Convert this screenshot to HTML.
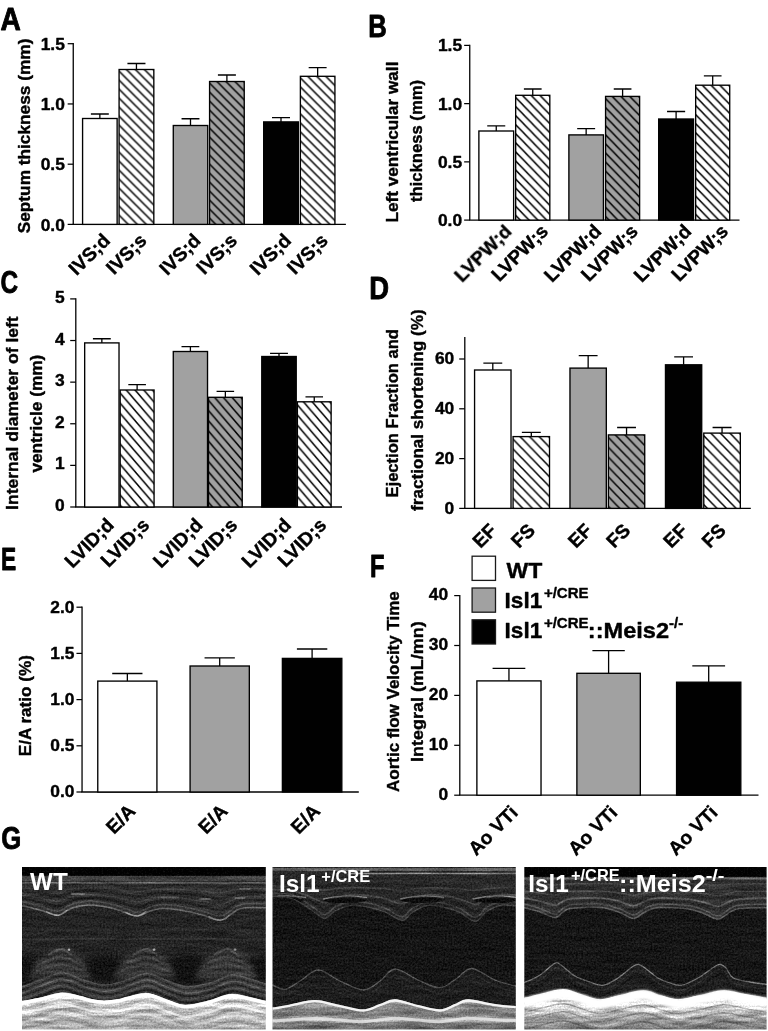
<!DOCTYPE html>
<html><head><meta charset="utf-8"><title>Figure</title>
<style>html,body{margin:0;padding:0;background:#fff}svg{display:block}</style>
</head><body>
<svg width="768" height="1031" viewBox="0 0 768 1031">
<defs>
</defs>
<rect width="768" height="1031" fill="#fff"/>
<g opacity="0.999">

<text x="0.40" y="29.80" font-size="31.7" textLength="20.3" lengthAdjust="spacingAndGlyphs" font-family="Liberation Sans, sans-serif" font-weight="bold" stroke="#000" stroke-width="0.9" stroke-linejoin="round">A</text>
<path d="M73.25 43.10V224.40" stroke="#000" stroke-width="1.3" fill="none"/>
<path d="M72.60 224.40H345.90" stroke="#000" stroke-width="1.3" fill="none"/>
<path d="M67.65 43.70H73.25" stroke="#000" stroke-width="1.25" fill="none"/>
<text x="64.90" y="49.96" font-size="17.4" text-anchor="end" font-family="Liberation Sans, sans-serif" font-weight="bold" stroke="#000" stroke-width="0.4" stroke-linejoin="round">1.5</text>
<path d="M67.65 103.95H73.25" stroke="#000" stroke-width="1.25" fill="none"/>
<text x="64.90" y="110.21" font-size="17.4" text-anchor="end" font-family="Liberation Sans, sans-serif" font-weight="bold" stroke="#000" stroke-width="0.4" stroke-linejoin="round">1.0</text>
<path d="M67.65 164.20H73.25" stroke="#000" stroke-width="1.25" fill="none"/>
<text x="64.90" y="170.46" font-size="17.4" text-anchor="end" font-family="Liberation Sans, sans-serif" font-weight="bold" stroke="#000" stroke-width="0.4" stroke-linejoin="round">0.5</text>
<path d="M67.65 224.40H73.25" stroke="#000" stroke-width="1.25" fill="none"/>
<text x="64.90" y="230.66" font-size="17.4" text-anchor="end" font-family="Liberation Sans, sans-serif" font-weight="bold" stroke="#000" stroke-width="0.4" stroke-linejoin="round">0.0</text>
<text transform="translate(29.90 233.30) rotate(-90)" font-size="16.8" textLength="194.7" lengthAdjust="spacingAndGlyphs" font-family="Liberation Sans, sans-serif" font-weight="bold" stroke="#000" stroke-width="0.4" stroke-linejoin="round">Septum thickness (mm)</text>
<path d="M99.85 118.50V114.00M90.88 114.00H108.82" stroke="#000" stroke-width="1.3" fill="none"/>
<rect x="82.58" y="118.50" width="34.55" height="105.90" fill="#fff" stroke="#000" stroke-width="1.35"/>
<text transform="translate(111.25 241.60) rotate(-45)" font-size="19.2" text-anchor="end" font-family="Liberation Sans, sans-serif" font-weight="bold" stroke="#000" stroke-width="0.4" stroke-linejoin="round">IVS;d</text>
<path d="M136.45 69.50V63.50M127.42 63.50H145.47" stroke="#000" stroke-width="1.3" fill="none"/>
<pattern id="h1" x="118.40" y="70.50" width="9.0" height="9.0" patternUnits="userSpaceOnUse"><rect width="9.0" height="9.0" fill="#fff"/><path d="M-9.0 -9.0L18.0 18.0M0 -9.0L27.0 18.0M-18.0 -9.0L9.0 18.0" stroke="#000" stroke-width="1.5" fill="none"/></pattern>
<rect x="119.08" y="69.50" width="34.75" height="154.90" fill="url(#h1)" stroke="#000" stroke-width="1.35"/>
<text transform="translate(147.85 241.60) rotate(-45)" font-size="19.2" text-anchor="end" font-family="Liberation Sans, sans-serif" font-weight="bold" stroke="#000" stroke-width="0.4" stroke-linejoin="round">IVS;s</text>
<path d="M190.50 125.50V118.75M181.55 118.75H199.45" stroke="#000" stroke-width="1.3" fill="none"/>
<rect x="173.28" y="125.50" width="34.45" height="98.90" fill="#a1a1a1" stroke="#000" stroke-width="1.35"/>
<text transform="translate(201.90 241.60) rotate(-45)" font-size="19.2" text-anchor="end" font-family="Liberation Sans, sans-serif" font-weight="bold" stroke="#000" stroke-width="0.4" stroke-linejoin="round">IVS;d</text>
<path d="M226.90 81.50V75.00M217.90 75.00H235.90" stroke="#000" stroke-width="1.3" fill="none"/>
<pattern id="h2" x="208.90" y="82.50" width="9.0" height="9.0" patternUnits="userSpaceOnUse"><rect width="9.0" height="9.0" fill="#a1a1a1"/><path d="M-9.0 -9.0L18.0 18.0M0 -9.0L27.0 18.0M-18.0 -9.0L9.0 18.0" stroke="#000" stroke-width="1.5" fill="none"/></pattern>
<rect x="209.58" y="81.50" width="34.65" height="142.90" fill="url(#h2)" stroke="#000" stroke-width="1.35"/>
<text transform="translate(238.30 241.60) rotate(-45)" font-size="19.2" text-anchor="end" font-family="Liberation Sans, sans-serif" font-weight="bold" stroke="#000" stroke-width="0.4" stroke-linejoin="round">IVS;s</text>
<path d="M281.00 121.90V117.70M272.00 117.70H290.00" stroke="#000" stroke-width="1.3" fill="none"/>
<rect x="263.68" y="121.90" width="34.65" height="102.50" fill="#000" stroke="#000" stroke-width="1.35"/>
<text transform="translate(292.40 241.60) rotate(-45)" font-size="19.2" text-anchor="end" font-family="Liberation Sans, sans-serif" font-weight="bold" stroke="#000" stroke-width="0.4" stroke-linejoin="round">IVS;d</text>
<path d="M317.65 76.30V67.70M308.67 67.70H326.62" stroke="#000" stroke-width="1.3" fill="none"/>
<pattern id="h3" x="299.70" y="77.30" width="9.0" height="9.0" patternUnits="userSpaceOnUse"><rect width="9.0" height="9.0" fill="#fff"/><path d="M-9.0 -9.0L18.0 18.0M0 -9.0L27.0 18.0M-18.0 -9.0L9.0 18.0" stroke="#000" stroke-width="1.5" fill="none"/></pattern>
<rect x="300.38" y="76.30" width="34.55" height="148.10" fill="url(#h3)" stroke="#000" stroke-width="1.35"/>
<text transform="translate(329.05 241.60) rotate(-45)" font-size="19.2" text-anchor="end" font-family="Liberation Sans, sans-serif" font-weight="bold" stroke="#000" stroke-width="0.4" stroke-linejoin="round">IVS;s</text>
<text x="368.20" y="36.70" font-size="31.7" textLength="18.5" lengthAdjust="spacingAndGlyphs" font-family="Liberation Sans, sans-serif" font-weight="bold" stroke="#000" stroke-width="0.9" stroke-linejoin="round">B</text>
<path d="M469.75 44.80V220.10" stroke="#000" stroke-width="1.3" fill="none"/>
<path d="M469.10 220.10H739.50" stroke="#000" stroke-width="1.3" fill="none"/>
<path d="M464.15 45.40H469.75" stroke="#000" stroke-width="1.25" fill="none"/>
<text x="462.10" y="51.39" font-size="17.4" text-anchor="end" font-family="Liberation Sans, sans-serif" font-weight="bold" stroke="#000" stroke-width="0.4" stroke-linejoin="round">1.5</text>
<path d="M464.15 103.63H469.75" stroke="#000" stroke-width="1.25" fill="none"/>
<text x="462.10" y="109.62" font-size="17.4" text-anchor="end" font-family="Liberation Sans, sans-serif" font-weight="bold" stroke="#000" stroke-width="0.4" stroke-linejoin="round">1.0</text>
<path d="M464.15 161.87H469.75" stroke="#000" stroke-width="1.25" fill="none"/>
<text x="462.10" y="167.86" font-size="17.4" text-anchor="end" font-family="Liberation Sans, sans-serif" font-weight="bold" stroke="#000" stroke-width="0.4" stroke-linejoin="round">0.5</text>
<path d="M464.15 220.10H469.75" stroke="#000" stroke-width="1.25" fill="none"/>
<text x="462.10" y="226.09" font-size="17.4" text-anchor="end" font-family="Liberation Sans, sans-serif" font-weight="bold" stroke="#000" stroke-width="0.4" stroke-linejoin="round">0.0</text>
<text transform="translate(397.90 222.50) rotate(-90)" font-size="16.8" textLength="160.9" lengthAdjust="spacingAndGlyphs" font-family="Liberation Sans, sans-serif" font-weight="bold" stroke="#000" stroke-width="0.4" stroke-linejoin="round">Left ventricular wall</text>
<text transform="translate(421.90 202.10) rotate(-90)" font-size="16.8" textLength="122.2" lengthAdjust="spacingAndGlyphs" font-family="Liberation Sans, sans-serif" font-weight="bold" stroke="#000" stroke-width="0.4" stroke-linejoin="round">thickness (mm)</text>
<path d="M496.25 131.00V125.80M487.23 125.80H505.27" stroke="#000" stroke-width="1.3" fill="none"/>
<rect x="478.88" y="131.00" width="34.75" height="89.10" fill="#fff" stroke="#000" stroke-width="1.35"/>
<text transform="translate(512.75 232.40) rotate(-45)" font-size="19.2" text-anchor="end" font-family="Liberation Sans, sans-serif" font-weight="bold" stroke="#000" stroke-width="0.4" stroke-linejoin="round">LVPW;d</text>
<path d="M532.75 95.30V89.00M523.88 89.00H541.62" stroke="#000" stroke-width="1.3" fill="none"/>
<pattern id="h4" x="515.00" y="96.80" width="8.8" height="9.07" patternUnits="userSpaceOnUse"><rect width="8.8" height="9.07" fill="#fff"/><path d="M-8.8 -9.07L17.6 18.14M0 -9.07L26.400000000000002 18.14M-17.6 -9.07L8.8 18.14" stroke="#000" stroke-width="1.5" fill="none"/></pattern>
<rect x="515.67" y="95.30" width="34.15" height="124.80" fill="url(#h4)" stroke="#000" stroke-width="1.35"/>
<text transform="translate(549.25 232.40) rotate(-45)" font-size="19.2" text-anchor="end" font-family="Liberation Sans, sans-serif" font-weight="bold" stroke="#000" stroke-width="0.4" stroke-linejoin="round">LVPW;s</text>
<path d="M586.15 134.90V128.60M577.18 128.60H595.13" stroke="#000" stroke-width="1.3" fill="none"/>
<rect x="568.88" y="134.90" width="34.55" height="85.20" fill="#a1a1a1" stroke="#000" stroke-width="1.35"/>
<text transform="translate(602.65 232.40) rotate(-45)" font-size="19.2" text-anchor="end" font-family="Liberation Sans, sans-serif" font-weight="bold" stroke="#000" stroke-width="0.4" stroke-linejoin="round">LVPW;d</text>
<path d="M622.60 96.40V89.00M613.75 89.00H631.45" stroke="#000" stroke-width="1.3" fill="none"/>
<pattern id="h5" x="604.90" y="97.90" width="8.8" height="9.07" patternUnits="userSpaceOnUse"><rect width="8.8" height="9.07" fill="#a1a1a1"/><path d="M-8.8 -9.07L17.6 18.14M0 -9.07L26.400000000000002 18.14M-17.6 -9.07L8.8 18.14" stroke="#000" stroke-width="1.5" fill="none"/></pattern>
<rect x="605.57" y="96.40" width="34.05" height="123.70" fill="url(#h5)" stroke="#000" stroke-width="1.35"/>
<text transform="translate(639.10 232.40) rotate(-45)" font-size="19.2" text-anchor="end" font-family="Liberation Sans, sans-serif" font-weight="bold" stroke="#000" stroke-width="0.4" stroke-linejoin="round">LVPW;s</text>
<path d="M676.10 119.00V111.50M667.05 111.50H685.15" stroke="#000" stroke-width="1.3" fill="none"/>
<rect x="658.67" y="119.00" width="34.85" height="101.10" fill="#000" stroke="#000" stroke-width="1.35"/>
<text transform="translate(692.60 232.40) rotate(-45)" font-size="19.2" text-anchor="end" font-family="Liberation Sans, sans-serif" font-weight="bold" stroke="#000" stroke-width="0.4" stroke-linejoin="round">LVPW;d</text>
<path d="M712.70 85.20V75.80M703.85 75.80H721.55" stroke="#000" stroke-width="1.3" fill="none"/>
<pattern id="h6" x="695.00" y="86.70" width="8.8" height="9.07" patternUnits="userSpaceOnUse"><rect width="8.8" height="9.07" fill="#fff"/><path d="M-8.8 -9.07L17.6 18.14M0 -9.07L26.400000000000002 18.14M-17.6 -9.07L8.8 18.14" stroke="#000" stroke-width="1.5" fill="none"/></pattern>
<rect x="695.67" y="85.20" width="34.05" height="134.90" fill="url(#h6)" stroke="#000" stroke-width="1.35"/>
<text transform="translate(729.20 232.40) rotate(-45)" font-size="19.2" text-anchor="end" font-family="Liberation Sans, sans-serif" font-weight="bold" stroke="#000" stroke-width="0.4" stroke-linejoin="round">LVPW;s</text>
<text x="0.60" y="292.60" font-size="31.7" textLength="17.6" lengthAdjust="spacingAndGlyphs" font-family="Liberation Sans, sans-serif" font-weight="bold" stroke="#000" stroke-width="0.9" stroke-linejoin="round">C</text>
<path d="M75.80 298.30V507.00" stroke="#000" stroke-width="1.3" fill="none"/>
<path d="M75.15 507.00H342.00" stroke="#000" stroke-width="1.3" fill="none"/>
<path d="M70.20 298.90H75.80" stroke="#000" stroke-width="1.25" fill="none"/>
<text x="64.60" y="302.96" font-size="17.4" text-anchor="end" font-family="Liberation Sans, sans-serif" font-weight="bold" stroke="#000" stroke-width="0.4" stroke-linejoin="round">5</text>
<path d="M70.20 340.52H75.80" stroke="#000" stroke-width="1.25" fill="none"/>
<text x="64.60" y="344.58" font-size="17.4" text-anchor="end" font-family="Liberation Sans, sans-serif" font-weight="bold" stroke="#000" stroke-width="0.4" stroke-linejoin="round">4</text>
<path d="M70.20 382.14H75.80" stroke="#000" stroke-width="1.25" fill="none"/>
<text x="64.60" y="386.20" font-size="17.4" text-anchor="end" font-family="Liberation Sans, sans-serif" font-weight="bold" stroke="#000" stroke-width="0.4" stroke-linejoin="round">3</text>
<path d="M70.20 423.76H75.80" stroke="#000" stroke-width="1.25" fill="none"/>
<text x="64.60" y="427.82" font-size="17.4" text-anchor="end" font-family="Liberation Sans, sans-serif" font-weight="bold" stroke="#000" stroke-width="0.4" stroke-linejoin="round">2</text>
<path d="M70.20 465.38H75.80" stroke="#000" stroke-width="1.25" fill="none"/>
<text x="64.60" y="469.44" font-size="17.4" text-anchor="end" font-family="Liberation Sans, sans-serif" font-weight="bold" stroke="#000" stroke-width="0.4" stroke-linejoin="round">1</text>
<path d="M70.20 507.00H75.80" stroke="#000" stroke-width="1.25" fill="none"/>
<text x="64.60" y="511.06" font-size="17.4" text-anchor="end" font-family="Liberation Sans, sans-serif" font-weight="bold" stroke="#000" stroke-width="0.4" stroke-linejoin="round">0</text>
<text transform="translate(18.30 509.90) rotate(-90)" font-size="16.8" textLength="193.6" lengthAdjust="spacingAndGlyphs" font-family="Liberation Sans, sans-serif" font-weight="bold" stroke="#000" stroke-width="0.4" stroke-linejoin="round">Internal diameter of left</text>
<text transform="translate(42.40 472.60) rotate(-90)" font-size="16.8" textLength="117.9" lengthAdjust="spacingAndGlyphs" font-family="Liberation Sans, sans-serif" font-weight="bold" stroke="#000" stroke-width="0.4" stroke-linejoin="round">ventricle (mm)</text>
<path d="M101.85 342.90V338.75M92.92 338.75H110.77" stroke="#000" stroke-width="1.3" fill="none"/>
<rect x="84.67" y="342.90" width="34.35" height="164.10" fill="#fff" stroke="#000" stroke-width="1.35"/>
<text transform="translate(115.15 526.20) rotate(-45)" font-size="19.2" text-anchor="end" font-family="Liberation Sans, sans-serif" font-weight="bold" stroke="#000" stroke-width="0.4" stroke-linejoin="round">LVID;d</text>
<path d="M137.12 390.00V384.60M128.31 384.60H145.94" stroke="#000" stroke-width="1.3" fill="none"/>
<pattern id="h7" x="119.50" y="392.30" width="8.75" height="10.2" patternUnits="userSpaceOnUse"><rect width="8.75" height="10.2" fill="#fff"/><path d="M-8.75 -10.2L17.5 20.4M0 -10.2L26.25 20.4M-17.5 -10.2L8.75 20.4" stroke="#000" stroke-width="1.5" fill="none"/></pattern>
<rect x="120.17" y="390.00" width="33.90" height="117.00" fill="url(#h7)" stroke="#000" stroke-width="1.35"/>
<text transform="translate(150.43 526.20) rotate(-45)" font-size="19.2" text-anchor="end" font-family="Liberation Sans, sans-serif" font-weight="bold" stroke="#000" stroke-width="0.4" stroke-linejoin="round">LVID;s</text>
<path d="M190.40 351.50V346.60M181.50 346.60H199.30" stroke="#000" stroke-width="1.3" fill="none"/>
<rect x="173.28" y="351.50" width="34.25" height="155.50" fill="#a1a1a1" stroke="#000" stroke-width="1.35"/>
<text transform="translate(203.70 526.20) rotate(-45)" font-size="19.2" text-anchor="end" font-family="Liberation Sans, sans-serif" font-weight="bold" stroke="#000" stroke-width="0.4" stroke-linejoin="round">LVID;d</text>
<path d="M225.35 397.30V391.40M216.58 391.40H234.13" stroke="#000" stroke-width="1.3" fill="none"/>
<pattern id="h8" x="207.80" y="399.60" width="8.75" height="10.2" patternUnits="userSpaceOnUse"><rect width="8.75" height="10.2" fill="#a1a1a1"/><path d="M-8.75 -10.2L17.5 20.4M0 -10.2L26.25 20.4M-17.5 -10.2L8.75 20.4" stroke="#000" stroke-width="1.5" fill="none"/></pattern>
<rect x="208.48" y="397.30" width="33.75" height="109.70" fill="url(#h8)" stroke="#000" stroke-width="1.35"/>
<text transform="translate(238.65 526.20) rotate(-45)" font-size="19.2" text-anchor="end" font-family="Liberation Sans, sans-serif" font-weight="bold" stroke="#000" stroke-width="0.4" stroke-linejoin="round">LVID;s</text>
<path d="M279.00 356.50V353.30M270.05 353.30H287.95" stroke="#000" stroke-width="1.3" fill="none"/>
<rect x="261.78" y="356.50" width="34.45" height="150.50" fill="#000" stroke="#000" stroke-width="1.35"/>
<text transform="translate(292.30 526.20) rotate(-45)" font-size="19.2" text-anchor="end" font-family="Liberation Sans, sans-serif" font-weight="bold" stroke="#000" stroke-width="0.4" stroke-linejoin="round">LVID;d</text>
<path d="M314.25 401.80V396.80M305.48 396.80H323.02" stroke="#000" stroke-width="1.3" fill="none"/>
<pattern id="h9" x="296.70" y="404.10" width="8.75" height="10.2" patternUnits="userSpaceOnUse"><rect width="8.75" height="10.2" fill="#fff"/><path d="M-8.75 -10.2L17.5 20.4M0 -10.2L26.25 20.4M-17.5 -10.2L8.75 20.4" stroke="#000" stroke-width="1.5" fill="none"/></pattern>
<rect x="297.38" y="401.80" width="33.75" height="105.20" fill="url(#h9)" stroke="#000" stroke-width="1.35"/>
<text transform="translate(327.55 526.20) rotate(-45)" font-size="19.2" text-anchor="end" font-family="Liberation Sans, sans-serif" font-weight="bold" stroke="#000" stroke-width="0.4" stroke-linejoin="round">LVID;s</text>
<text x="369.30" y="299.30" font-size="31.7" textLength="19.8" lengthAdjust="spacingAndGlyphs" font-family="Liberation Sans, sans-serif" font-weight="bold" stroke="#000" stroke-width="0.9" stroke-linejoin="round">D</text>
<path d="M464.80 336.90V508.40" stroke="#000" stroke-width="1.3" fill="none"/>
<path d="M464.15 508.40H750.80" stroke="#000" stroke-width="1.3" fill="none"/>
<path d="M459.20 359.00H464.80" stroke="#000" stroke-width="1.25" fill="none"/>
<text x="454.25" y="364.26" font-size="17.4" text-anchor="end" font-family="Liberation Sans, sans-serif" font-weight="bold" stroke="#000" stroke-width="0.4" stroke-linejoin="round">60</text>
<path d="M459.20 408.80H464.80" stroke="#000" stroke-width="1.25" fill="none"/>
<text x="454.25" y="414.06" font-size="17.4" text-anchor="end" font-family="Liberation Sans, sans-serif" font-weight="bold" stroke="#000" stroke-width="0.4" stroke-linejoin="round">40</text>
<path d="M459.20 458.60H464.80" stroke="#000" stroke-width="1.25" fill="none"/>
<text x="454.25" y="463.86" font-size="17.4" text-anchor="end" font-family="Liberation Sans, sans-serif" font-weight="bold" stroke="#000" stroke-width="0.4" stroke-linejoin="round">20</text>
<path d="M459.20 508.40H464.80" stroke="#000" stroke-width="1.25" fill="none"/>
<text x="454.25" y="513.66" font-size="17.4" text-anchor="end" font-family="Liberation Sans, sans-serif" font-weight="bold" stroke="#000" stroke-width="0.4" stroke-linejoin="round">0</text>
<text transform="translate(398.30 497.50) rotate(-90)" font-size="16.8" textLength="168.5" lengthAdjust="spacingAndGlyphs" font-family="Liberation Sans, sans-serif" font-weight="bold" stroke="#000" stroke-width="0.4" stroke-linejoin="round">Ejection Fraction and</text>
<text transform="translate(422.90 510.90) rotate(-90)" font-size="16.8" textLength="201.5" lengthAdjust="spacingAndGlyphs" font-family="Liberation Sans, sans-serif" font-weight="bold" stroke="#000" stroke-width="0.4" stroke-linejoin="round">fractional shortening (%)</text>
<path d="M492.80 370.00V363.20M483.35 363.20H502.25" stroke="#000" stroke-width="1.3" fill="none"/>
<rect x="474.57" y="370.00" width="36.45" height="138.40" fill="#fff" stroke="#000" stroke-width="1.35"/>
<text transform="translate(497.90 531.70) rotate(-45)" font-size="19.2" text-anchor="end" font-family="Liberation Sans, sans-serif" font-weight="bold" stroke="#000" stroke-width="0.4" stroke-linejoin="round">EF</text>
<path d="M531.30 436.60V432.40M521.85 432.40H540.75" stroke="#000" stroke-width="1.3" fill="none"/>
<pattern id="h10" x="512.40" y="438.50" width="9.55" height="9.85" patternUnits="userSpaceOnUse"><rect width="9.55" height="9.85" fill="#fff"/><path d="M-9.55 -9.85L19.1 19.7M0 -9.85L28.650000000000002 19.7M-19.1 -9.85L9.55 19.7" stroke="#000" stroke-width="1.5" fill="none"/></pattern>
<rect x="513.07" y="436.60" width="36.45" height="71.80" fill="url(#h10)" stroke="#000" stroke-width="1.35"/>
<text transform="translate(536.40 531.70) rotate(-45)" font-size="19.2" text-anchor="end" font-family="Liberation Sans, sans-serif" font-weight="bold" stroke="#000" stroke-width="0.4" stroke-linejoin="round">FS</text>
<path d="M588.15 368.10V355.60M578.72 355.60H597.58" stroke="#000" stroke-width="1.3" fill="none"/>
<rect x="569.97" y="368.10" width="36.35" height="140.30" fill="#a1a1a1" stroke="#000" stroke-width="1.35"/>
<text transform="translate(593.25 531.70) rotate(-45)" font-size="19.2" text-anchor="end" font-family="Liberation Sans, sans-serif" font-weight="bold" stroke="#000" stroke-width="0.4" stroke-linejoin="round">EF</text>
<path d="M626.55 434.90V427.50M617.12 427.50H635.97" stroke="#000" stroke-width="1.3" fill="none"/>
<pattern id="h11" x="607.70" y="436.80" width="9.55" height="9.85" patternUnits="userSpaceOnUse"><rect width="9.55" height="9.85" fill="#a1a1a1"/><path d="M-9.55 -9.85L19.1 19.7M0 -9.85L28.650000000000002 19.7M-19.1 -9.85L9.55 19.7" stroke="#000" stroke-width="1.5" fill="none"/></pattern>
<rect x="608.38" y="434.90" width="36.35" height="73.50" fill="url(#h11)" stroke="#000" stroke-width="1.35"/>
<text transform="translate(631.65 531.70) rotate(-45)" font-size="19.2" text-anchor="end" font-family="Liberation Sans, sans-serif" font-weight="bold" stroke="#000" stroke-width="0.4" stroke-linejoin="round">FS</text>
<path d="M683.60 364.80V356.80M674.20 356.80H693.00" stroke="#000" stroke-width="1.3" fill="none"/>
<rect x="665.47" y="364.80" width="36.25" height="143.60" fill="#000" stroke="#000" stroke-width="1.35"/>
<text transform="translate(688.70 531.70) rotate(-45)" font-size="19.2" text-anchor="end" font-family="Liberation Sans, sans-serif" font-weight="bold" stroke="#000" stroke-width="0.4" stroke-linejoin="round">EF</text>
<path d="M722.05 433.10V427.50M712.57 427.50H731.52" stroke="#000" stroke-width="1.3" fill="none"/>
<pattern id="h12" x="703.10" y="435.00" width="9.55" height="9.85" patternUnits="userSpaceOnUse"><rect width="9.55" height="9.85" fill="#fff"/><path d="M-9.55 -9.85L19.1 19.7M0 -9.85L28.650000000000002 19.7M-19.1 -9.85L9.55 19.7" stroke="#000" stroke-width="1.5" fill="none"/></pattern>
<rect x="703.77" y="433.10" width="36.55" height="75.30" fill="url(#h12)" stroke="#000" stroke-width="1.35"/>
<text transform="translate(727.15 531.70) rotate(-45)" font-size="19.2" text-anchor="end" font-family="Liberation Sans, sans-serif" font-weight="bold" stroke="#000" stroke-width="0.4" stroke-linejoin="round">FS</text>
<text x="1.00" y="569.50" font-size="31.7" textLength="15.2" lengthAdjust="spacingAndGlyphs" font-family="Liberation Sans, sans-serif" font-weight="bold" stroke="#000" stroke-width="0.9" stroke-linejoin="round">E</text>
<path d="M82.05 606.60V792.00" stroke="#000" stroke-width="1.3" fill="none"/>
<path d="M81.40 792.00H358.80" stroke="#000" stroke-width="1.3" fill="none"/>
<path d="M76.45 607.20H82.05" stroke="#000" stroke-width="1.25" fill="none"/>
<text x="74.50" y="612.56" font-size="17.4" text-anchor="end" font-family="Liberation Sans, sans-serif" font-weight="bold" stroke="#000" stroke-width="0.4" stroke-linejoin="round">2.0</text>
<path d="M76.45 653.40H82.05" stroke="#000" stroke-width="1.25" fill="none"/>
<text x="74.50" y="658.76" font-size="17.4" text-anchor="end" font-family="Liberation Sans, sans-serif" font-weight="bold" stroke="#000" stroke-width="0.4" stroke-linejoin="round">1.5</text>
<path d="M76.45 699.60H82.05" stroke="#000" stroke-width="1.25" fill="none"/>
<text x="74.50" y="704.96" font-size="17.4" text-anchor="end" font-family="Liberation Sans, sans-serif" font-weight="bold" stroke="#000" stroke-width="0.4" stroke-linejoin="round">1.0</text>
<path d="M76.45 745.80H82.05" stroke="#000" stroke-width="1.25" fill="none"/>
<text x="74.50" y="751.16" font-size="17.4" text-anchor="end" font-family="Liberation Sans, sans-serif" font-weight="bold" stroke="#000" stroke-width="0.4" stroke-linejoin="round">0.5</text>
<path d="M76.45 792.00H82.05" stroke="#000" stroke-width="1.25" fill="none"/>
<text x="74.50" y="797.36" font-size="17.4" text-anchor="end" font-family="Liberation Sans, sans-serif" font-weight="bold" stroke="#000" stroke-width="0.4" stroke-linejoin="round">0.0</text>
<text transform="translate(30.50 756.30) rotate(-90)" font-size="16.8" textLength="101.3" lengthAdjust="spacingAndGlyphs" font-family="Liberation Sans, sans-serif" font-weight="bold" stroke="#000" stroke-width="0.4" stroke-linejoin="round">E/A ratio (%)</text>
<path d="M127.35 681.10V673.50M112.22 673.50H142.47" stroke="#000" stroke-width="1.3" fill="none"/>
<rect x="97.77" y="681.10" width="59.15" height="110.90" fill="#fff" stroke="#000" stroke-width="1.35"/>
<text transform="translate(136.55 812.30) rotate(-45)" font-size="19.2" text-anchor="end" font-family="Liberation Sans, sans-serif" font-weight="bold" stroke="#000" stroke-width="0.4" stroke-linejoin="round">E/A</text>
<path d="M219.70 666.00V657.90M204.55 657.90H234.85" stroke="#000" stroke-width="1.3" fill="none"/>
<rect x="190.08" y="666.00" width="59.25" height="126.00" fill="#a1a1a1" stroke="#000" stroke-width="1.35"/>
<text transform="translate(228.90 812.30) rotate(-45)" font-size="19.2" text-anchor="end" font-family="Liberation Sans, sans-serif" font-weight="bold" stroke="#000" stroke-width="0.4" stroke-linejoin="round">E/A</text>
<path d="M312.10 658.40V649.00M296.90 649.00H327.30" stroke="#000" stroke-width="1.3" fill="none"/>
<rect x="282.38" y="658.40" width="59.45" height="133.60" fill="#000" stroke="#000" stroke-width="1.35"/>
<text transform="translate(321.30 812.30) rotate(-45)" font-size="19.2" text-anchor="end" font-family="Liberation Sans, sans-serif" font-weight="bold" stroke="#000" stroke-width="0.4" stroke-linejoin="round">E/A</text>
<text x="370.00" y="576.90" font-size="31.7" textLength="14.5" lengthAdjust="spacingAndGlyphs" font-family="Liberation Sans, sans-serif" font-weight="bold" stroke="#000" stroke-width="0.9" stroke-linejoin="round">F</text>
<path d="M459.80 595.00V795.20" stroke="#000" stroke-width="1.3" fill="none"/>
<path d="M459.15 795.20H758.50" stroke="#000" stroke-width="1.3" fill="none"/>
<path d="M454.20 595.60H459.80" stroke="#000" stroke-width="1.25" fill="none"/>
<text x="448.20" y="600.26" font-size="17.4" text-anchor="end" font-family="Liberation Sans, sans-serif" font-weight="bold" stroke="#000" stroke-width="0.4" stroke-linejoin="round">40</text>
<path d="M454.20 645.50H459.80" stroke="#000" stroke-width="1.25" fill="none"/>
<text x="448.20" y="650.16" font-size="17.4" text-anchor="end" font-family="Liberation Sans, sans-serif" font-weight="bold" stroke="#000" stroke-width="0.4" stroke-linejoin="round">30</text>
<path d="M454.20 695.40H459.80" stroke="#000" stroke-width="1.25" fill="none"/>
<text x="448.20" y="700.06" font-size="17.4" text-anchor="end" font-family="Liberation Sans, sans-serif" font-weight="bold" stroke="#000" stroke-width="0.4" stroke-linejoin="round">20</text>
<path d="M454.20 745.30H459.80" stroke="#000" stroke-width="1.25" fill="none"/>
<text x="448.20" y="749.96" font-size="17.4" text-anchor="end" font-family="Liberation Sans, sans-serif" font-weight="bold" stroke="#000" stroke-width="0.4" stroke-linejoin="round">10</text>
<path d="M454.20 795.20H459.80" stroke="#000" stroke-width="1.25" fill="none"/>
<text x="448.20" y="799.86" font-size="17.4" text-anchor="end" font-family="Liberation Sans, sans-serif" font-weight="bold" stroke="#000" stroke-width="0.4" stroke-linejoin="round">0</text>
<text transform="translate(398.60 792.00) rotate(-90)" font-size="16.8" textLength="200.8" lengthAdjust="spacingAndGlyphs" font-family="Liberation Sans, sans-serif" font-weight="bold" stroke="#000" stroke-width="0.4" stroke-linejoin="round">Aortic flow Velocity Time</text>
<text transform="translate(422.90 761.90) rotate(-90)" font-size="16.8" textLength="140.6" lengthAdjust="spacingAndGlyphs" font-family="Liberation Sans, sans-serif" font-weight="bold" stroke="#000" stroke-width="0.4" stroke-linejoin="round">Integral  (mL/mn)</text>
<path d="M508.95 680.90V668.40M492.58 668.40H525.33" stroke="#000" stroke-width="1.3" fill="none"/>
<rect x="476.88" y="680.90" width="64.15" height="114.30" fill="#fff" stroke="#000" stroke-width="1.35"/>
<text transform="translate(518.95 813.70) rotate(-45)" font-size="19.2" text-anchor="end" font-family="Liberation Sans, sans-serif" font-weight="bold" stroke="#000" stroke-width="0.4" stroke-linejoin="round">Ao VTi</text>
<path d="M608.60 673.30V650.70M592.40 650.70H624.80" stroke="#000" stroke-width="1.3" fill="none"/>
<rect x="576.88" y="673.30" width="63.45" height="121.90" fill="#a1a1a1" stroke="#000" stroke-width="1.35"/>
<text transform="translate(618.60 813.70) rotate(-45)" font-size="19.2" text-anchor="end" font-family="Liberation Sans, sans-serif" font-weight="bold" stroke="#000" stroke-width="0.4" stroke-linejoin="round">Ao VTi</text>
<path d="M708.70 682.20V665.90M692.30 665.90H725.10" stroke="#000" stroke-width="1.3" fill="none"/>
<rect x="676.57" y="682.20" width="64.25" height="113.00" fill="#000" stroke="#000" stroke-width="1.35"/>
<text transform="translate(718.70 813.70) rotate(-45)" font-size="19.2" text-anchor="end" font-family="Liberation Sans, sans-serif" font-weight="bold" stroke="#000" stroke-width="0.4" stroke-linejoin="round">Ao VTi</text>
<rect x="472.1" y="556.20" width="23.4" height="24.2" fill="#fff" stroke="#1a1a1a" stroke-width="1.3"/>
<rect x="472.1" y="588.00" width="23.4" height="24.2" fill="#a1a1a1" stroke="#1a1a1a" stroke-width="1.3"/>
<rect x="472.1" y="619.80" width="23.4" height="24.2" fill="#000" stroke="#1a1a1a" stroke-width="1.3"/>
<text x="506.5" y="578.1" font-size="22.6" textLength="35.8" lengthAdjust="spacingAndGlyphs" font-family="Liberation Sans, sans-serif" font-weight="bold" stroke="#000" stroke-width="0.4" stroke-linejoin="round">WT</text>
<text x="504.6" y="608.1" font-size="22.6" font-family="Liberation Sans, sans-serif" font-weight="bold" stroke="#000" stroke-width="0.4" stroke-linejoin="round">Isl1</text>
<text x="543.9" y="598.2" font-size="15.0" font-family="Liberation Sans, sans-serif" font-weight="bold" stroke="#000" stroke-width="0.4" stroke-linejoin="round">+/CRE</text>
<text x="504.6" y="638.2" font-size="22.6" font-family="Liberation Sans, sans-serif" font-weight="bold" stroke="#000" stroke-width="0.4" stroke-linejoin="round">Isl1</text>
<text x="543.9" y="628.3" font-size="15.0" font-family="Liberation Sans, sans-serif" font-weight="bold" stroke="#000" stroke-width="0.4" stroke-linejoin="round">+/CRE</text>
<text x="587.8" y="638.2" font-size="22.6" textLength="81.3" lengthAdjust="spacingAndGlyphs" font-family="Liberation Sans, sans-serif" font-weight="bold" stroke="#000" stroke-width="0.4" stroke-linejoin="round">::Meis2</text>
<text x="669.0" y="628.3" font-size="15.0" font-family="Liberation Sans, sans-serif" font-weight="bold" stroke="#000" stroke-width="0.4" stroke-linejoin="round">-/-</text>
<text x="1.20" y="848.90" font-size="31.7" textLength="20.0" lengthAdjust="spacingAndGlyphs" font-family="Liberation Sans, sans-serif" font-weight="bold" stroke="#000" stroke-width="0.9" stroke-linejoin="round">G</text>
<defs>
<filter id="us" x="0" y="0" width="100%" height="100%" filterUnits="objectBoundingBox" color-interpolation-filters="sRGB">
<feGaussianBlur in="SourceGraphic" stdDeviation="0.55" result="b"/>
<feTurbulence type="fractalNoise" baseFrequency="0.03 0.25" numOctaves="2" seed="7" result="n1"/>
<feColorMatrix in="n1" type="matrix" values="1 0 0 0 0  1 0 0 0 0  1 0 0 0 0  0 0 0 0 1" result="g1"/>
<feTurbulence type="fractalNoise" baseFrequency="0.55" numOctaves="2" seed="11" result="n2"/>
<feColorMatrix in="n2" type="matrix" values="1 0 0 0 0  1 0 0 0 0  1 0 0 0 0  0 0 0 0 1" result="g2"/>
<feComposite in="b" in2="g1" operator="arithmetic" k1="0.9" k2="0.55" k3="0" k4="0" result="c1"/>
<feComposite in="c1" in2="g2" operator="arithmetic" k1="0.2" k2="0.9" k3="0.2" k4="-0.1"/>
</filter>
<filter id="bl" x="-5%" y="-50%" width="110%" height="200%"><feGaussianBlur stdDeviation="0.6"/></filter>
<filter id="bl2" x="-5%" y="-50%" width="110%" height="200%"><feGaussianBlur stdDeviation="1.1"/></filter>
<filter id="bl3" x="-30%" y="-30%" width="160%" height="160%"><feGaussianBlur stdDeviation="2.6"/></filter>
<linearGradient id="br1" x1="0" y1="0" x2="0" y2="1"><stop offset="0" stop-color="#fff"/><stop offset="0.18" stop-color="#d8d8d8"/><stop offset="0.5" stop-color="#c0c0c0"/><stop offset="1" stop-color="#9a9a9a"/></linearGradient>
<linearGradient id="br2" x1="0" y1="0" x2="0" y2="1"><stop offset="0" stop-color="#ddd"/><stop offset="0.1" stop-color="#999"/><stop offset="0.35" stop-color="#7a7a7a"/><stop offset="0.5" stop-color="#8a8a8a"/><stop offset="0.58" stop-color="#b8b8b8"/><stop offset="0.68" stop-color="#6c6c6c"/><stop offset="1" stop-color="#585858"/></linearGradient>
<linearGradient id="br3" x1="0" y1="0" x2="0" y2="1"><stop offset="0" stop-color="#fff"/><stop offset="0.3" stop-color="#f0f0f0"/><stop offset="0.45" stop-color="#c8c8c8"/><stop offset="0.7" stop-color="#909090"/><stop offset="1" stop-color="#5c5c5c"/></linearGradient>
</defs>
<clipPath id="cp1"><rect x="22.0" y="866.9" width="243.80" height="162.50"/></clipPath>
<g clip-path="url(#cp1)"><g filter="url(#us)">
<rect x="16.0" y="860.9" width="255.80" height="174.50" fill="#303030"/>
<path d="M14.0 901.7C15.3 901.7 17.7 901.0 22.0 901.7C26.3 902.4 34.1 904.4 40.0 906.0C45.9 907.6 52.8 911.2 57.5 911.2C62.2 911.2 64.6 907.5 68.0 906.0C71.4 904.5 73.5 903.3 78.0 902.5C82.5 901.7 88.8 900.8 95.0 901.2C101.2 901.6 108.0 903.2 115.0 905.0C122.0 906.8 130.9 911.7 136.7 912.0C142.5 912.3 145.8 908.2 150.0 907.0C154.2 905.8 156.7 904.7 162.0 904.6C167.3 904.5 175.3 905.4 182.0 906.5C188.7 907.6 195.7 909.4 202.0 911.0C208.3 912.6 215.3 916.2 220.0 916.2C224.7 916.2 227.0 912.8 230.0 911.0C233.0 909.2 235.3 906.7 238.0 905.5C240.7 904.3 241.3 904.0 246.0 903.7C250.7 903.4 261.4 903.7 266.0 903.7C270.6 903.7 272.5 903.7 273.8 903.7" fill="none" stroke="#505050" stroke-width="1.5" stroke-opacity="0.8"/>
<path d="M14.0 898.4C15.3 898.4 17.7 897.8 22.0 898.4C26.3 899.0 34.1 900.7 40.0 902.0C45.9 903.3 52.8 906.3 57.5 906.3C62.2 906.3 64.6 903.2 68.0 902.0C71.4 900.8 73.5 899.8 78.0 899.1C82.5 898.4 88.8 897.7 95.0 898.0C101.2 898.4 108.0 899.7 115.0 901.2C122.0 902.7 130.9 906.7 136.7 907.0C142.5 907.3 145.8 903.9 150.0 902.8C154.2 901.8 156.7 900.9 162.0 900.8C167.3 900.8 175.3 901.5 182.0 902.4C188.7 903.3 195.7 904.8 202.0 906.1C208.3 907.5 215.3 910.5 220.0 910.5C224.7 910.5 227.0 907.6 230.0 906.1C233.0 904.7 235.3 902.6 238.0 901.6C240.7 900.6 241.3 900.3 246.0 900.1C250.7 899.8 261.4 900.1 266.0 900.1C270.6 900.1 272.5 900.1 273.8 900.1" fill="none" stroke="#1c1c1c" stroke-width="2.4" stroke-opacity="0.85"/>
<path d="M14.0 895.2C15.3 895.2 17.7 894.7 22.0 895.2C26.3 895.6 34.1 897.0 40.0 898.0C45.9 899.0 52.8 901.4 57.5 901.4C62.2 901.4 64.6 899.0 68.0 898.0C71.4 897.0 73.5 896.2 78.0 895.7C82.5 895.2 88.8 894.6 95.0 894.8C101.2 895.1 108.0 896.2 115.0 897.3C122.0 898.5 130.9 901.7 136.7 902.0C142.5 902.2 145.8 899.5 150.0 898.7C154.2 897.8 156.7 897.1 162.0 897.1C167.3 897.0 175.3 897.6 182.0 898.3C188.7 899.0 195.7 900.2 202.0 901.3C208.3 902.4 215.3 904.7 220.0 904.7C224.7 904.7 227.0 902.5 230.0 901.3C233.0 900.1 235.3 898.5 238.0 897.7C240.7 896.9 241.3 896.7 246.0 896.5C250.7 896.3 261.4 896.5 266.0 896.5C270.6 896.5 272.5 896.5 273.8 896.5" fill="none" stroke="#4a4a4a" stroke-width="1.6" stroke-opacity="0.7"/>
<path d="M14.0 891.4C15.3 891.4 17.7 891.0 22.0 891.4C26.3 891.7 34.1 892.7 40.0 893.5C45.9 894.3 52.8 896.0 57.5 896.0C62.2 896.0 64.6 894.2 68.0 893.5C71.4 892.8 73.5 892.2 78.0 891.8C82.5 891.4 88.8 890.9 95.0 891.1C101.2 891.4 108.0 892.1 115.0 893.0C122.0 893.9 130.9 896.3 136.7 896.4C142.5 896.6 145.8 894.6 150.0 894.0C154.2 893.4 156.7 892.9 162.0 892.8C167.3 892.8 175.3 893.2 182.0 893.7C188.7 894.3 195.7 895.2 202.0 896.0C208.3 896.7 215.3 898.5 220.0 898.5C224.7 898.5 227.0 896.8 230.0 896.0C233.0 895.1 235.3 893.9 238.0 893.3C240.7 892.7 241.3 892.5 246.0 892.4C250.7 892.2 261.4 892.4 266.0 892.4C270.6 892.4 272.5 892.4 273.8 892.4" fill="none" stroke="#1e1e1e" stroke-width="2.4" stroke-opacity="0.8"/>
<path d="M14.0 888.1C15.3 888.1 17.7 887.9 22.0 888.1C26.3 888.4 34.1 889.0 40.0 889.5C45.9 890.0 52.8 891.2 57.5 891.2C62.2 891.2 64.6 890.0 68.0 889.5C71.4 889.0 73.5 888.6 78.0 888.4C82.5 888.1 88.8 887.8 95.0 888.0C101.2 888.1 108.0 888.6 115.0 889.2C122.0 889.8 130.9 891.3 136.7 891.4C142.5 891.5 145.8 890.2 150.0 889.8C154.2 889.4 156.7 889.1 162.0 889.1C167.3 889.0 175.3 889.3 182.0 889.7C188.7 890.0 195.7 890.6 202.0 891.1C208.3 891.6 215.3 892.8 220.0 892.8C224.7 892.8 227.0 891.7 230.0 891.1C233.0 890.5 235.3 889.7 238.0 889.3C240.7 889.0 241.3 888.9 246.0 888.8C250.7 888.7 261.4 888.8 266.0 888.8C270.6 888.8 272.5 888.8 273.8 888.8" fill="none" stroke="#484848" stroke-width="1.5" stroke-opacity="0.7"/>
<path d="M14.0 884.4C15.3 884.4 17.7 884.2 22.0 884.4C26.3 884.5 34.1 884.8 40.0 885.0C45.9 885.2 52.8 885.8 57.5 885.8C62.2 885.8 64.6 885.2 68.0 885.0C71.4 884.8 73.5 884.6 78.0 884.5C82.5 884.4 88.8 884.2 95.0 884.3C101.2 884.3 108.0 884.6 115.0 884.9C122.0 885.1 130.9 885.9 136.7 885.9C142.5 885.9 145.8 885.3 150.0 885.1C154.2 885.0 156.7 884.8 162.0 884.8C167.3 884.8 175.3 884.9 182.0 885.1C188.7 885.2 195.7 885.5 202.0 885.8C208.3 886.0 215.3 886.5 220.0 886.5C224.7 886.5 227.0 886.0 230.0 885.8C233.0 885.5 235.3 885.1 238.0 884.9C240.7 884.7 241.3 884.7 246.0 884.7C250.7 884.6 261.4 884.7 266.0 884.7C270.6 884.7 272.5 884.7 273.8 884.7" fill="none" stroke="#222" stroke-width="2.0" stroke-opacity="0.7"/>
<path d="M10 878.5H280" stroke="#424242" stroke-width="5"/>
<path d="M10 882.9H280" stroke="#6c6c6c" stroke-width="1.2"/>
<path d="M162.0 897.5h16" stroke="#7c7c7c" stroke-width="1.8" stroke-linecap="round" stroke-opacity="0.6"/>
<path d="M72.0 894h12" stroke="#7c7c7c" stroke-width="1.8" stroke-linecap="round" stroke-opacity="0.6"/>
<path d="M200.0 899h10" stroke="#7c7c7c" stroke-width="1.8" stroke-linecap="round" stroke-opacity="0.6"/>
<path d="M240.0 889h10" stroke="#7c7c7c" stroke-width="1.8" stroke-linecap="round" stroke-opacity="0.6"/>
<path d="M235.5 898h9" stroke="#7c7c7c" stroke-width="1.8" stroke-linecap="round" stroke-opacity="0.6"/>
<path d="M14.0 905.7C15.3 905.7 17.7 905.0 22.0 905.7C26.3 906.4 34.1 908.4 40.0 910.0C45.9 911.6 52.8 915.2 57.5 915.2C62.2 915.2 64.6 911.5 68.0 910.0C71.4 908.5 73.5 907.3 78.0 906.5C82.5 905.7 88.8 904.8 95.0 905.2C101.2 905.6 108.0 907.2 115.0 909.0C122.0 910.8 130.9 915.7 136.7 916.0C142.5 916.3 145.8 912.2 150.0 911.0C154.2 909.8 156.7 908.7 162.0 908.6C167.3 908.5 175.3 909.4 182.0 910.5C188.7 911.6 195.7 913.4 202.0 915.0C208.3 916.6 215.3 920.2 220.0 920.2C224.7 920.2 227.0 916.8 230.0 915.0C233.0 913.2 235.3 910.7 238.0 909.5C240.7 908.3 241.3 908.0 246.0 907.7C250.7 907.4 261.4 907.7 266.0 907.7C270.6 907.7 272.5 907.7 273.8 907.7L273.8 1035.4L14.0 1035.4Z" fill="#242424" />
<path d="M14.0 905.7C15.3 905.7 17.7 905.0 22.0 905.7C26.3 906.4 34.1 908.4 40.0 910.0C45.9 911.6 52.8 915.2 57.5 915.2C62.2 915.2 64.6 911.5 68.0 910.0C71.4 908.5 73.5 907.3 78.0 906.5C82.5 905.7 88.8 904.8 95.0 905.2C101.2 905.6 108.0 907.2 115.0 909.0C122.0 910.8 130.9 915.7 136.7 916.0C142.5 916.3 145.8 912.2 150.0 911.0C154.2 909.8 156.7 908.7 162.0 908.6C167.3 908.5 175.3 909.4 182.0 910.5C188.7 911.6 195.7 913.4 202.0 915.0C208.3 916.6 215.3 920.2 220.0 920.2C224.7 920.2 227.0 916.8 230.0 915.0C233.0 913.2 235.3 910.7 238.0 909.5C240.7 908.3 241.3 908.0 246.0 907.7C250.7 907.4 261.4 907.7 266.0 907.7C270.6 907.7 272.5 907.7 273.8 907.7" fill="none" stroke="#8a8a8a" stroke-width="1.5" stroke-opacity="0.6"/>
<path d="M46.5 911.6Q54.5 915.8000000000001 58.5 915.2T66.5 910.7" fill="none" stroke="#a8a8a8" stroke-width="1.6" stroke-opacity="0.7" stroke-linecap="round"/>
<path d="M125.69999999999999 912.4Q133.7 916.6 137.7 916T145.7 911.5" fill="none" stroke="#a8a8a8" stroke-width="1.6" stroke-opacity="0.7" stroke-linecap="round"/>
<path d="M209 916.6Q217 920.8000000000001 221 920.2T229 915.7" fill="none" stroke="#a8a8a8" stroke-width="1.6" stroke-opacity="0.7" stroke-linecap="round"/>
<path d="M10 939H280" stroke="#3c3c3c" stroke-width="1"/>
<path d="M10 930H280" stroke="#303030" stroke-width="0.8"/>
<ellipse cx="19" cy="969" rx="21" ry="15" fill="#141414" fill-opacity="0.8" filter="url(#bl3)"/>
<ellipse cx="104" cy="969" rx="21" ry="15" fill="#141414" fill-opacity="0.8" filter="url(#bl3)"/>
<ellipse cx="187" cy="969" rx="21" ry="15" fill="#141414" fill-opacity="0.8" filter="url(#bl3)"/>
<ellipse cx="268" cy="969" rx="21" ry="15" fill="#141414" fill-opacity="0.8" filter="url(#bl3)"/>
<path d="M29 978Q35 958 54 950.5Q67 947.5 73 952Q87 961 91 979Z" fill="#3a3a3a" fill-opacity="0.9" filter="url(#bl3)"/>
<path d="M48.0 955.0Q56.4 949.5 62.0 949.0Q67.2 950.5 72.0 956.0" fill="none" stroke="#525252" stroke-width="2.0" stroke-opacity="0.8"/>
<path d="M45.0 958.9Q55.5 953.4 62.0 952.9Q69.0 954.4 75.0 959.9" fill="none" stroke="#2a2a2a" stroke-width="2.0" stroke-opacity="0.8"/>
<path d="M42.0 962.8Q54.6 957.3 62.0 956.8Q70.8 958.3 78.0 963.8" fill="none" stroke="#4c4c4c" stroke-width="2.0" stroke-opacity="0.8"/>
<path d="M39.0 966.7Q53.7 961.2 62.0 960.7Q72.6 962.2 81.0 967.7" fill="none" stroke="#2c2c2c" stroke-width="2.0" stroke-opacity="0.8"/>
<path d="M36.0 970.6Q52.8 965.1 62.0 964.6Q74.4 966.1 84.0 971.6" fill="none" stroke="#484848" stroke-width="2.0" stroke-opacity="0.8"/>
<path d="M33.0 974.5Q51.9 969.0 62.0 968.5Q76.2 970.0 87.0 975.5" fill="none" stroke="#2e2e2e" stroke-width="2.0" stroke-opacity="0.8"/>
<circle cx="69" cy="949.8" r="1.3" fill="#9a9a9a"/>
<path d="M114 978Q120 958 139 950.5Q152 947.5 158 952Q172 961 176 979Z" fill="#3a3a3a" fill-opacity="0.9" filter="url(#bl3)"/>
<path d="M133.0 955.0Q141.4 949.5 147.0 949.0Q152.2 950.5 157.0 956.0" fill="none" stroke="#525252" stroke-width="2.0" stroke-opacity="0.8"/>
<path d="M130.0 958.9Q140.5 953.4 147.0 952.9Q154.0 954.4 160.0 959.9" fill="none" stroke="#2a2a2a" stroke-width="2.0" stroke-opacity="0.8"/>
<path d="M127.0 962.8Q139.6 957.3 147.0 956.8Q155.8 958.3 163.0 963.8" fill="none" stroke="#4c4c4c" stroke-width="2.0" stroke-opacity="0.8"/>
<path d="M124.0 966.7Q138.7 961.2 147.0 960.7Q157.6 962.2 166.0 967.7" fill="none" stroke="#2c2c2c" stroke-width="2.0" stroke-opacity="0.8"/>
<path d="M121.0 970.6Q137.8 965.1 147.0 964.6Q159.4 966.1 169.0 971.6" fill="none" stroke="#484848" stroke-width="2.0" stroke-opacity="0.8"/>
<path d="M118.0 974.5Q136.9 969.0 147.0 968.5Q161.2 970.0 172.0 975.5" fill="none" stroke="#2e2e2e" stroke-width="2.0" stroke-opacity="0.8"/>
<circle cx="154" cy="949.8" r="1.3" fill="#9a9a9a"/>
<path d="M195 978Q201 958 220 950.5Q233 947.5 239 952Q253 961 257 979Z" fill="#3a3a3a" fill-opacity="0.9" filter="url(#bl3)"/>
<path d="M214.0 955.0Q222.4 949.5 228.0 949.0Q233.2 950.5 238.0 956.0" fill="none" stroke="#525252" stroke-width="2.0" stroke-opacity="0.8"/>
<path d="M211.0 958.9Q221.5 953.4 228.0 952.9Q235.0 954.4 241.0 959.9" fill="none" stroke="#2a2a2a" stroke-width="2.0" stroke-opacity="0.8"/>
<path d="M208.0 962.8Q220.6 957.3 228.0 956.8Q236.8 958.3 244.0 963.8" fill="none" stroke="#4c4c4c" stroke-width="2.0" stroke-opacity="0.8"/>
<path d="M205.0 966.7Q219.7 961.2 228.0 960.7Q238.6 962.2 247.0 967.7" fill="none" stroke="#2c2c2c" stroke-width="2.0" stroke-opacity="0.8"/>
<path d="M202.0 970.6Q218.8 965.1 228.0 964.6Q240.4 966.1 250.0 971.6" fill="none" stroke="#484848" stroke-width="2.0" stroke-opacity="0.8"/>
<path d="M199.0 974.5Q217.9 969.0 228.0 968.5Q242.2 970.0 253.0 975.5" fill="none" stroke="#2e2e2e" stroke-width="2.0" stroke-opacity="0.8"/>
<circle cx="235" cy="949.8" r="1.3" fill="#9a9a9a"/>
<path d="M14.0 986.5C15.3 986.5 17.7 987.6 22.0 986.5C26.3 985.4 33.3 982.3 40.0 980.0C46.7 977.7 55.0 972.8 62.0 972.7C69.0 972.6 75.0 977.5 82.0 979.5C89.0 981.5 96.8 984.8 104.0 985.0C111.2 985.2 117.8 982.4 125.0 980.5C132.2 978.6 139.8 973.4 147.0 973.5C154.2 973.6 161.3 978.8 168.0 981.0C174.7 983.2 180.0 986.2 187.0 986.5C194.0 986.8 202.5 984.9 210.0 983.0C217.5 981.1 225.3 975.7 232.0 975.0C238.7 974.3 244.3 977.5 250.0 979.0C255.7 980.5 262.0 983.2 266.0 984.0C270.0 984.8 272.5 984.0 273.8 984.0L273.8 1035.4L14.0 1035.4Z" fill="#3c3c3c" />
<path d="M14.0 986.5C15.3 986.5 17.7 987.6 22.0 986.5C26.3 985.4 33.3 982.3 40.0 980.0C46.7 977.7 55.0 972.8 62.0 972.7C69.0 972.6 75.0 977.5 82.0 979.5C89.0 981.5 96.8 984.8 104.0 985.0C111.2 985.2 117.8 982.4 125.0 980.5C132.2 978.6 139.8 973.4 147.0 973.5C154.2 973.6 161.3 978.8 168.0 981.0C174.7 983.2 180.0 986.2 187.0 986.5C194.0 986.8 202.5 984.9 210.0 983.0C217.5 981.1 225.3 975.7 232.0 975.0C238.7 974.3 244.3 977.5 250.0 979.0C255.7 980.5 262.0 983.2 266.0 984.0C270.0 984.8 272.5 984.0 273.8 984.0" fill="none" stroke="#5a5a5a" stroke-width="1.4" stroke-opacity="0.8"/>
<path d="M14.0 989.7C15.3 989.7 17.7 990.8 22.0 989.7C26.3 988.6 33.3 985.5 40.0 983.2C46.7 980.9 55.0 976.0 62.0 975.9C69.0 975.8 75.0 980.7 82.0 982.7C89.0 984.8 96.8 988.0 104.0 988.2C111.2 988.4 117.8 985.6 125.0 983.7C132.2 981.8 139.8 976.6 147.0 976.7C154.2 976.8 161.3 982.0 168.0 984.2C174.7 986.4 180.0 989.4 187.0 989.7C194.0 990.0 202.5 988.1 210.0 986.2C217.5 984.3 225.3 978.9 232.0 978.2C238.7 977.5 244.3 980.7 250.0 982.2C255.7 983.7 262.0 986.4 266.0 987.2C270.0 988.0 272.5 987.2 273.8 987.2" fill="none" stroke="#262626" stroke-width="1.6" stroke-opacity="0.9"/>
<path d="M14.0 992.9C15.3 992.9 17.7 994.0 22.0 992.9C26.3 991.8 33.3 988.7 40.0 986.4C46.7 984.1 55.0 979.2 62.0 979.1C69.0 979.0 75.0 983.9 82.0 985.9C89.0 987.9 96.8 991.2 104.0 991.4C111.2 991.6 117.8 988.8 125.0 986.9C132.2 985.0 139.8 979.8 147.0 979.9C154.2 980.0 161.3 985.2 168.0 987.4C174.7 989.6 180.0 992.6 187.0 992.9C194.0 993.2 202.5 991.3 210.0 989.4C217.5 987.5 225.3 982.1 232.0 981.4C238.7 980.7 244.3 983.9 250.0 985.4C255.7 986.9 262.0 989.6 266.0 990.4C270.0 991.2 272.5 990.4 273.8 990.4" fill="none" stroke="#5c5c5c" stroke-width="1.5" stroke-opacity="0.9"/>
<path d="M14.0 996.1C15.3 996.1 17.7 997.2 22.0 996.1C26.3 995.0 33.3 991.9 40.0 989.6C46.7 987.3 55.0 982.4 62.0 982.3C69.0 982.2 75.0 987.1 82.0 989.1C89.0 991.1 96.8 994.4 104.0 994.6C111.2 994.8 117.8 992.0 125.0 990.1C132.2 988.2 139.8 983.0 147.0 983.1C154.2 983.2 161.3 988.4 168.0 990.6C174.7 992.8 180.0 995.8 187.0 996.1C194.0 996.4 202.5 994.5 210.0 992.6C217.5 990.7 225.3 985.3 232.0 984.6C238.7 983.9 244.3 987.1 250.0 988.6C255.7 990.1 262.0 992.8 266.0 993.6C270.0 994.4 272.5 993.6 273.8 993.6" fill="none" stroke="#242424" stroke-width="1.7" stroke-opacity="0.9"/>
<path d="M14.0 999.3C15.3 999.3 17.7 1000.4 22.0 999.3C26.3 998.2 33.3 995.1 40.0 992.8C46.7 990.5 55.0 985.6 62.0 985.5C69.0 985.4 75.0 990.2 82.0 992.3C89.0 994.3 96.8 997.6 104.0 997.8C111.2 998.0 117.8 995.2 125.0 993.3C132.2 991.4 139.8 986.2 147.0 986.3C154.2 986.4 161.3 991.6 168.0 993.8C174.7 996.0 180.0 999.0 187.0 999.3C194.0 999.6 202.5 997.7 210.0 995.8C217.5 993.9 225.3 988.5 232.0 987.8C238.7 987.1 244.3 990.3 250.0 991.8C255.7 993.3 262.0 996.0 266.0 996.8C270.0 997.6 272.5 996.8 273.8 996.8" fill="none" stroke="#505050" stroke-width="1.4" stroke-opacity="0.9"/>
<path d="M14.0 1002.7C15.3 1002.7 17.7 1003.8 22.0 1002.7C26.3 1001.6 33.3 998.5 40.0 996.2C46.7 993.9 55.0 989.0 62.0 988.9C69.0 988.8 75.0 993.7 82.0 995.7C89.0 997.8 96.8 1001.0 104.0 1001.2C111.2 1001.4 117.8 998.6 125.0 996.7C132.2 994.8 139.8 989.6 147.0 989.7C154.2 989.8 161.3 995.0 168.0 997.2C174.7 999.4 180.0 1002.4 187.0 1002.7C194.0 1003.0 202.5 1001.1 210.0 999.2C217.5 997.3 225.3 991.9 232.0 991.2C238.7 990.5 244.3 993.7 250.0 995.2C255.7 996.7 262.0 999.4 266.0 1000.2C270.0 1001.0 272.5 1000.2 273.8 1000.2" fill="none" stroke="#1c1c1c" stroke-width="2.2" stroke-opacity="0.9"/>
<path d="M14.0 1000.8C15.3 1000.8 17.7 1001.3 22.0 1000.8C26.3 1000.2 33.3 998.9 40.0 997.5C46.7 996.1 55.3 992.8 62.0 992.5C68.7 992.2 75.0 994.7 80.0 995.8C85.0 996.9 88.0 998.2 92.0 999.0C96.0 999.8 99.7 1000.4 104.0 1000.4C108.3 1000.4 113.7 999.7 118.0 999.0C122.3 998.3 125.0 997.0 130.0 996.0C135.0 995.0 141.3 992.2 148.0 993.0C154.7 993.8 163.7 998.5 170.0 1000.5C176.3 1002.5 179.3 1004.8 186.0 1004.7C192.7 1004.6 202.5 1001.8 210.0 1000.0C217.5 998.2 224.3 994.3 231.0 993.8C237.7 993.3 244.2 995.8 250.0 997.0C255.8 998.2 262.0 1000.2 266.0 1000.8C270.0 1001.4 272.5 1000.8 273.8 1000.8L273.8 1035.4L14.0 1035.4Z" fill="url(#br1)" />
<path d="M14.0 1008.3C15.3 1008.3 17.7 1008.8 22.0 1008.3C26.3 1007.8 33.3 1006.4 40.0 1005.0C46.7 1003.6 55.3 1000.3 62.0 1000.0C68.7 999.7 75.0 1002.2 80.0 1003.3C85.0 1004.4 88.0 1005.7 92.0 1006.5C96.0 1007.3 99.7 1007.9 104.0 1007.9C108.3 1007.9 113.7 1007.2 118.0 1006.5C122.3 1005.8 125.0 1004.5 130.0 1003.5C135.0 1002.5 141.3 999.8 148.0 1000.5C154.7 1001.2 163.7 1006.0 170.0 1008.0C176.3 1010.0 179.3 1012.3 186.0 1012.2C192.7 1012.1 202.5 1009.3 210.0 1007.5C217.5 1005.7 224.3 1001.8 231.0 1001.3C237.7 1000.8 244.2 1003.3 250.0 1004.5C255.8 1005.7 262.0 1007.7 266.0 1008.3C270.0 1008.9 272.5 1008.3 273.8 1008.3" fill="none" stroke="#a8a8a8" stroke-width="2.2" stroke-opacity="0.8"/>
<path d="M14.0 1012.8C15.3 1012.8 17.7 1013.3 22.0 1012.8C26.3 1012.2 33.3 1010.9 40.0 1009.5C46.7 1008.1 55.3 1004.8 62.0 1004.5C68.7 1004.2 75.0 1006.7 80.0 1007.8C85.0 1008.9 88.0 1010.2 92.0 1011.0C96.0 1011.8 99.7 1012.4 104.0 1012.4C108.3 1012.4 113.7 1011.7 118.0 1011.0C122.3 1010.3 125.0 1009.0 130.0 1008.0C135.0 1007.0 141.3 1004.2 148.0 1005.0C154.7 1005.8 163.7 1010.5 170.0 1012.5C176.3 1014.5 179.3 1016.8 186.0 1016.7C192.7 1016.6 202.5 1013.8 210.0 1012.0C217.5 1010.2 224.3 1006.3 231.0 1005.8C237.7 1005.3 244.2 1007.8 250.0 1009.0C255.8 1010.2 262.0 1012.2 266.0 1012.8C270.0 1013.4 272.5 1012.8 273.8 1012.8" fill="none" stroke="#e8e8e8" stroke-width="2.4" stroke-opacity="0.8"/>
<path d="M14.0 1017.8C15.3 1017.8 17.7 1018.3 22.0 1017.8C26.3 1017.2 33.3 1015.9 40.0 1014.5C46.7 1013.1 55.3 1009.8 62.0 1009.5C68.7 1009.2 75.0 1011.7 80.0 1012.8C85.0 1013.9 88.0 1015.2 92.0 1016.0C96.0 1016.8 99.7 1017.4 104.0 1017.4C108.3 1017.4 113.7 1016.7 118.0 1016.0C122.3 1015.3 125.0 1014.0 130.0 1013.0C135.0 1012.0 141.3 1009.2 148.0 1010.0C154.7 1010.8 163.7 1015.5 170.0 1017.5C176.3 1019.5 179.3 1021.8 186.0 1021.7C192.7 1021.6 202.5 1018.8 210.0 1017.0C217.5 1015.2 224.3 1011.3 231.0 1010.8C237.7 1010.3 244.2 1012.8 250.0 1014.0C255.8 1015.2 262.0 1017.2 266.0 1017.8C270.0 1018.4 272.5 1017.8 273.8 1017.8" fill="none" stroke="#9c9c9c" stroke-width="2.4" stroke-opacity="0.8"/>
<path d="M14.0 1022.8C15.3 1022.8 17.7 1023.3 22.0 1022.8C26.3 1022.2 33.3 1020.9 40.0 1019.5C46.7 1018.1 55.3 1014.8 62.0 1014.5C68.7 1014.2 75.0 1016.7 80.0 1017.8C85.0 1018.9 88.0 1020.2 92.0 1021.0C96.0 1021.8 99.7 1022.4 104.0 1022.4C108.3 1022.4 113.7 1021.7 118.0 1021.0C122.3 1020.3 125.0 1019.0 130.0 1018.0C135.0 1017.0 141.3 1014.2 148.0 1015.0C154.7 1015.8 163.7 1020.5 170.0 1022.5C176.3 1024.5 179.3 1026.8 186.0 1026.7C192.7 1026.6 202.5 1023.8 210.0 1022.0C217.5 1020.2 224.3 1016.3 231.0 1015.8C237.7 1015.3 244.2 1017.8 250.0 1019.0C255.8 1020.2 262.0 1022.2 266.0 1022.8C270.0 1023.4 272.5 1022.8 273.8 1022.8" fill="none" stroke="#d0d0d0" stroke-width="2.2" stroke-opacity="0.7"/>
<path d="M14.0 1027.8C15.3 1027.8 17.7 1028.3 22.0 1027.8C26.3 1027.2 33.3 1025.9 40.0 1024.5C46.7 1023.1 55.3 1019.8 62.0 1019.5C68.7 1019.2 75.0 1021.7 80.0 1022.8C85.0 1023.9 88.0 1025.2 92.0 1026.0C96.0 1026.8 99.7 1027.4 104.0 1027.4C108.3 1027.4 113.7 1026.7 118.0 1026.0C122.3 1025.3 125.0 1024.0 130.0 1023.0C135.0 1022.0 141.3 1019.2 148.0 1020.0C154.7 1020.8 163.7 1025.5 170.0 1027.5C176.3 1029.5 179.3 1031.8 186.0 1031.7C192.7 1031.6 202.5 1028.8 210.0 1027.0C217.5 1025.2 224.3 1021.3 231.0 1020.8C237.7 1020.3 244.2 1022.8 250.0 1024.0C255.8 1025.2 262.0 1027.2 266.0 1027.8C270.0 1028.4 272.5 1027.8 273.8 1027.8" fill="none" stroke="#909090" stroke-width="2.4" stroke-opacity="0.7"/>
<rect x="16.0" y="860.9" width="255.80" height="14.80" fill="#000"/>
</g>
<g filter="url(#bl)">
<path d="M14.0 1002.8C15.3 1002.8 17.7 1003.3 22.0 1002.8C26.3 1002.2 33.3 1000.9 40.0 999.5C46.7 998.1 55.3 994.8 62.0 994.5C68.7 994.2 75.0 996.7 80.0 997.8C85.0 998.9 88.0 1000.2 92.0 1001.0C96.0 1001.8 99.7 1002.4 104.0 1002.4C108.3 1002.4 113.7 1001.7 118.0 1001.0C122.3 1000.3 125.0 999.0 130.0 998.0C135.0 997.0 141.3 994.2 148.0 995.0C154.7 995.8 163.7 1000.5 170.0 1002.5C176.3 1004.5 179.3 1006.8 186.0 1006.7C192.7 1006.6 202.5 1003.8 210.0 1002.0C217.5 1000.2 224.3 996.3 231.0 995.8C237.7 995.3 244.2 997.8 250.0 999.0C255.8 1000.2 262.0 1002.2 266.0 1002.8C270.0 1003.4 272.5 1002.8 273.8 1002.8" fill="none" stroke="#ffffff" stroke-width="3.4" stroke-opacity="1"/>
<path d="M14.0 1012.8C15.3 1012.8 17.7 1013.3 22.0 1012.8C26.3 1012.2 33.3 1010.9 40.0 1009.5C46.7 1008.1 55.3 1004.8 62.0 1004.5C68.7 1004.2 75.0 1006.7 80.0 1007.8C85.0 1008.9 88.0 1010.2 92.0 1011.0C96.0 1011.8 99.7 1012.4 104.0 1012.4C108.3 1012.4 113.7 1011.7 118.0 1011.0C122.3 1010.3 125.0 1009.0 130.0 1008.0C135.0 1007.0 141.3 1004.2 148.0 1005.0C154.7 1005.8 163.7 1010.5 170.0 1012.5C176.3 1014.5 179.3 1016.8 186.0 1016.7C192.7 1016.6 202.5 1013.8 210.0 1012.0C217.5 1010.2 224.3 1006.3 231.0 1005.8C237.7 1005.3 244.2 1007.8 250.0 1009.0C255.8 1010.2 262.0 1012.2 266.0 1012.8C270.0 1013.4 272.5 1012.8 273.8 1012.8" fill="none" stroke="#ffffff" stroke-width="2.0" stroke-opacity="0.45"/>
<path d="M14.0 1021.8C15.3 1021.8 17.7 1022.3 22.0 1021.8C26.3 1021.2 33.3 1019.9 40.0 1018.5C46.7 1017.1 55.3 1013.8 62.0 1013.5C68.7 1013.2 75.0 1015.7 80.0 1016.8C85.0 1017.9 88.0 1019.2 92.0 1020.0C96.0 1020.8 99.7 1021.4 104.0 1021.4C108.3 1021.4 113.7 1020.7 118.0 1020.0C122.3 1019.3 125.0 1018.0 130.0 1017.0C135.0 1016.0 141.3 1013.2 148.0 1014.0C154.7 1014.8 163.7 1019.5 170.0 1021.5C176.3 1023.5 179.3 1025.8 186.0 1025.7C192.7 1025.6 202.5 1022.8 210.0 1021.0C217.5 1019.2 224.3 1015.3 231.0 1014.8C237.7 1014.3 244.2 1016.8 250.0 1018.0C255.8 1019.2 262.0 1021.2 266.0 1021.8C270.0 1022.4 272.5 1021.8 273.8 1021.8" fill="none" stroke="#ffffff" stroke-width="2.0" stroke-opacity="0.25"/>
</g></g>
<clipPath id="cp2"><rect x="272.5" y="866.9" width="243.30" height="162.50"/></clipPath>
<g clip-path="url(#cp2)"><g filter="url(#us)">
<rect x="266.5" y="860.9" width="255.30" height="174.50" fill="#282828"/>
<path d="M260 869.5H530" stroke="#5a5a5a" stroke-width="3"/>
<path d="M350 873.5H530" stroke="#8a8a8a" stroke-width="1.6"/>
<path d="M260 877H530" stroke="#2a2a2a" stroke-width="2.5"/>
<path d="M264.5 892.5C265.8 892.5 267.4 892.2 272.0 892.5C276.6 892.8 285.7 892.4 292.0 894.5C298.3 896.6 304.6 901.7 310.0 905.0C315.4 908.3 320.3 914.2 324.5 914.5C328.7 914.8 330.6 909.2 335.0 907.0C339.4 904.8 345.5 902.1 351.0 901.4C356.5 900.7 362.3 901.9 368.0 903.0C373.7 904.1 379.3 905.8 385.0 908.0C390.7 910.2 397.3 916.5 402.0 916.5C406.7 916.5 408.7 910.5 413.0 908.0C417.3 905.5 422.7 902.1 428.0 901.4C433.3 900.6 439.7 902.3 445.0 903.5C450.3 904.7 454.9 906.2 460.0 908.5C465.1 910.8 471.0 917.6 475.3 917.5C479.6 917.4 481.8 910.7 486.0 908.0C490.2 905.3 495.7 902.4 500.7 901.4C505.7 900.4 512.1 901.9 516.0 902.0C519.9 902.1 522.5 902.0 523.8 902.0" fill="none" stroke="#4c4c4c" stroke-width="1.6" stroke-opacity="0.8"/>
<path d="M264.5 891.2C265.8 891.2 267.4 890.9 272.0 891.2C276.6 891.5 285.7 891.1 292.0 892.8C298.3 894.5 304.6 898.5 310.0 901.2C315.4 903.9 320.3 908.5 324.5 908.8C328.7 909.1 330.6 904.5 335.0 902.8C339.4 901.1 345.5 898.9 351.0 898.3C356.5 897.8 362.3 898.7 368.0 899.6C373.7 900.5 379.3 901.8 385.0 903.6C390.7 905.4 397.3 910.4 402.0 910.4C406.7 910.4 408.7 905.6 413.0 903.6C417.3 901.6 422.7 898.9 428.0 898.3C433.3 897.7 439.7 899.1 445.0 900.0C450.3 900.9 454.9 902.1 460.0 904.0C465.1 905.9 471.0 911.3 475.3 911.2C479.6 911.1 481.8 905.7 486.0 903.6C490.2 901.5 495.7 899.1 500.7 898.3C505.7 897.5 512.1 898.7 516.0 898.8C519.9 898.9 522.5 898.8 523.8 898.8" fill="none" stroke="#1c1c1c" stroke-width="2.6" stroke-opacity="0.85"/>
<path d="M264.5 889.4C265.8 889.4 267.4 889.2 272.0 889.4C276.6 889.6 285.7 889.4 292.0 890.6C298.3 891.9 304.6 894.9 310.0 896.9C315.4 898.9 320.3 902.4 324.5 902.6C328.7 902.8 330.6 899.4 335.0 898.1C339.4 896.8 345.5 895.1 351.0 894.7C356.5 894.3 362.3 895.0 368.0 895.7C373.7 896.4 379.3 897.4 385.0 898.7C390.7 900.1 397.3 903.8 402.0 903.8C406.7 903.8 408.7 900.2 413.0 898.7C417.3 897.2 422.7 895.2 428.0 894.7C433.3 894.3 439.7 895.3 445.0 896.0C450.3 896.7 454.9 897.6 460.0 899.0C465.1 900.4 471.0 904.4 475.3 904.4C479.6 904.4 481.8 900.3 486.0 898.7C490.2 897.1 495.7 895.3 500.7 894.7C505.7 894.1 512.1 895.0 516.0 895.1C519.9 895.2 522.5 895.1 523.8 895.1" fill="none" stroke="#505050" stroke-width="1.8" stroke-opacity="0.7"/>
<path d="M264.5 887.6C265.8 887.6 267.4 887.5 272.0 887.6C276.6 887.7 285.7 887.6 292.0 888.4C298.3 889.2 304.6 891.3 310.0 892.6C315.4 893.9 320.3 896.3 324.5 896.4C328.7 896.5 330.6 894.3 335.0 893.4C339.4 892.5 345.5 891.4 351.0 891.2C356.5 890.9 362.3 891.4 368.0 891.8C373.7 892.2 379.3 892.9 385.0 893.8C390.7 894.7 397.3 897.2 402.0 897.2C406.7 897.2 408.7 894.8 413.0 893.8C417.3 892.8 422.7 891.5 428.0 891.2C433.3 890.9 439.7 891.5 445.0 892.0C450.3 892.5 454.9 893.1 460.0 894.0C465.1 894.9 471.0 897.6 475.3 897.6C479.6 897.6 481.8 894.9 486.0 893.8C490.2 892.7 495.7 891.6 500.7 891.2C505.7 890.8 512.1 891.4 516.0 891.4C519.9 891.4 522.5 891.4 523.8 891.4" fill="none" stroke="#242424" stroke-width="2.2" stroke-opacity="0.8"/>
<path d="M264.5 885.8C265.8 885.8 267.4 885.7 272.0 885.8C276.6 885.9 285.7 885.8 292.0 886.2C298.3 886.6 304.6 887.6 310.0 888.3C315.4 889.0 320.3 890.1 324.5 890.2C328.7 890.3 330.6 889.1 335.0 888.7C339.4 888.3 345.5 887.7 351.0 887.6C356.5 887.4 362.3 887.7 368.0 887.9C373.7 888.1 379.3 888.4 385.0 888.9C390.7 889.4 397.3 890.6 402.0 890.6C406.7 890.6 408.7 889.4 413.0 888.9C417.3 888.4 422.7 887.7 428.0 887.6C433.3 887.4 439.7 887.8 445.0 888.0C450.3 888.2 454.9 888.5 460.0 889.0C465.1 889.5 471.0 890.8 475.3 890.8C479.6 890.8 481.8 889.4 486.0 888.9C490.2 888.4 495.7 887.8 500.7 887.6C505.7 887.4 512.1 887.7 516.0 887.7C519.9 887.7 522.5 887.7 523.8 887.7" fill="none" stroke="#4a4a4a" stroke-width="1.6" stroke-opacity="0.7"/>
<ellipse cx="345" cy="900.3" rx="21" ry="2.6" fill="#0a0a0a" fill-opacity="0.9"/>
<path d="M323 899Q345 893.5 367 897.5" fill="none" stroke="#8a8a8a" stroke-width="1.3" stroke-opacity="0.8"/>
<ellipse cx="422" cy="900.3" rx="21" ry="2.6" fill="#0a0a0a" fill-opacity="0.9"/>
<path d="M400 899Q422 893.5 444 897.5" fill="none" stroke="#8a8a8a" stroke-width="1.3" stroke-opacity="0.8"/>
<ellipse cx="494.7" cy="900.3" rx="21" ry="2.6" fill="#0a0a0a" fill-opacity="0.9"/>
<path d="M472.7 899Q494.7 893.5 516.7 897.5" fill="none" stroke="#8a8a8a" stroke-width="1.3" stroke-opacity="0.8"/>
<ellipse cx="284" cy="900.3" rx="21" ry="2.6" fill="#0a0a0a" fill-opacity="0.9"/>
<path d="M262 899Q284 893.5 306 897.5" fill="none" stroke="#8a8a8a" stroke-width="1.3" stroke-opacity="0.8"/>
<path d="M264.5 896.5C265.8 896.5 267.4 896.2 272.0 896.5C276.6 896.8 285.7 896.4 292.0 898.5C298.3 900.6 304.6 905.7 310.0 909.0C315.4 912.3 320.3 918.2 324.5 918.5C328.7 918.8 330.6 913.2 335.0 911.0C339.4 908.8 345.5 906.1 351.0 905.4C356.5 904.7 362.3 905.9 368.0 907.0C373.7 908.1 379.3 909.8 385.0 912.0C390.7 914.2 397.3 920.5 402.0 920.5C406.7 920.5 408.7 914.5 413.0 912.0C417.3 909.5 422.7 906.1 428.0 905.4C433.3 904.6 439.7 906.3 445.0 907.5C450.3 908.7 454.9 910.2 460.0 912.5C465.1 914.8 471.0 921.6 475.3 921.5C479.6 921.4 481.8 914.7 486.0 912.0C490.2 909.3 495.7 906.4 500.7 905.4C505.7 904.4 512.1 905.9 516.0 906.0C519.9 906.1 522.5 906.0 523.8 906.0L523.8 1035.4L264.5 1035.4Z" fill="#151515" />
<path d="M264.5 896.5C265.8 896.5 267.4 896.2 272.0 896.5C276.6 896.8 285.7 896.4 292.0 898.5C298.3 900.6 304.6 905.7 310.0 909.0C315.4 912.3 320.3 918.2 324.5 918.5C328.7 918.8 330.6 913.2 335.0 911.0C339.4 908.8 345.5 906.1 351.0 905.4C356.5 904.7 362.3 905.9 368.0 907.0C373.7 908.1 379.3 909.8 385.0 912.0C390.7 914.2 397.3 920.5 402.0 920.5C406.7 920.5 408.7 914.5 413.0 912.0C417.3 909.5 422.7 906.1 428.0 905.4C433.3 904.6 439.7 906.3 445.0 907.5C450.3 908.7 454.9 910.2 460.0 912.5C465.1 914.8 471.0 921.6 475.3 921.5C479.6 921.4 481.8 914.7 486.0 912.0C490.2 909.3 495.7 906.4 500.7 905.4C505.7 904.4 512.1 905.9 516.0 906.0C519.9 906.1 522.5 906.0 523.8 906.0" fill="none" stroke="#5a5a5a" stroke-width="1.3" stroke-opacity="0.6"/>
<path d="M264.5 985.0C265.8 985.0 268.6 984.3 272.0 985.0C275.4 985.7 280.3 990.0 285.0 989.3C289.7 988.6 294.4 984.2 300.0 981.0C305.6 977.8 311.6 970.0 318.3 970.0C325.0 970.0 332.5 977.7 340.0 981.0C347.5 984.3 356.6 990.0 363.3 990.0C370.0 990.0 374.7 984.5 380.0 981.0C385.3 977.5 388.7 969.2 395.0 969.0C401.3 968.8 410.5 976.9 418.0 980.0C425.5 983.1 433.7 987.9 440.0 987.7C446.3 987.5 450.7 982.2 456.0 979.0C461.3 975.8 465.2 968.3 471.7 968.5C478.2 968.7 487.6 977.1 495.0 980.0C502.4 982.9 511.2 985.0 516.0 986.0C520.8 987.0 522.5 986.0 523.8 986.0L523.8 1035.4L264.5 1035.4Z" fill="#1d1d1d" />
<path d="M264.5 985.0C265.8 985.0 268.6 984.3 272.0 985.0C275.4 985.7 280.3 990.0 285.0 989.3C289.7 988.6 294.4 984.2 300.0 981.0C305.6 977.8 311.6 970.0 318.3 970.0C325.0 970.0 332.5 977.7 340.0 981.0C347.5 984.3 356.6 990.0 363.3 990.0C370.0 990.0 374.7 984.5 380.0 981.0C385.3 977.5 388.7 969.2 395.0 969.0C401.3 968.8 410.5 976.9 418.0 980.0C425.5 983.1 433.7 987.9 440.0 987.7C446.3 987.5 450.7 982.2 456.0 979.0C461.3 975.8 465.2 968.3 471.7 968.5C478.2 968.7 487.6 977.1 495.0 980.0C502.4 982.9 511.2 985.0 516.0 986.0C520.8 987.0 522.5 986.0 523.8 986.0" fill="none" stroke="#808080" stroke-width="1.3" stroke-opacity="0.6"/>
<path d="M264.5 991.0C265.8 991.0 268.6 990.3 272.0 991.0C275.4 991.7 280.3 996.0 285.0 995.3C289.7 994.6 294.4 990.2 300.0 987.0C305.6 983.8 311.6 976.0 318.3 976.0C325.0 976.0 332.5 983.7 340.0 987.0C347.5 990.3 356.6 996.0 363.3 996.0C370.0 996.0 374.7 990.5 380.0 987.0C385.3 983.5 388.7 975.2 395.0 975.0C401.3 974.8 410.5 982.9 418.0 986.0C425.5 989.1 433.7 993.9 440.0 993.7C446.3 993.5 450.7 988.2 456.0 985.0C461.3 981.8 465.2 974.3 471.7 974.5C478.2 974.7 487.6 983.1 495.0 986.0C502.4 988.9 511.2 991.0 516.0 992.0C520.8 993.0 522.5 992.0 523.8 992.0" fill="none" stroke="#2c2c2c" stroke-width="1.5" stroke-opacity="0.8"/>
<path d="M264.5 997.0C265.8 997.0 268.6 996.3 272.0 997.0C275.4 997.7 280.3 1002.0 285.0 1001.3C289.7 1000.6 294.4 996.2 300.0 993.0C305.6 989.8 311.6 982.0 318.3 982.0C325.0 982.0 332.5 989.7 340.0 993.0C347.5 996.3 356.6 1002.0 363.3 1002.0C370.0 1002.0 374.7 996.5 380.0 993.0C385.3 989.5 388.7 981.2 395.0 981.0C401.3 980.8 410.5 988.9 418.0 992.0C425.5 995.1 433.7 999.9 440.0 999.7C446.3 999.5 450.7 994.2 456.0 991.0C461.3 987.8 465.2 980.3 471.7 980.5C478.2 980.7 487.6 989.1 495.0 992.0C502.4 994.9 511.2 997.0 516.0 998.0C520.8 999.0 522.5 998.0 523.8 998.0" fill="none" stroke="#242424" stroke-width="1.5" stroke-opacity="0.8"/>
<path d="M264.5 1007.5C265.8 1007.5 267.8 1008.0 272.0 1007.5C276.2 1007.0 282.8 1005.8 290.0 1004.5C297.2 1003.2 306.7 999.9 315.0 1000.0C323.3 1000.1 331.9 1003.5 340.0 1005.0C348.1 1006.5 356.6 1009.5 363.3 1009.3C370.0 1009.1 374.7 1005.7 380.0 1004.0C385.3 1002.3 388.7 999.1 395.0 999.3C401.3 999.5 410.5 1003.3 418.0 1005.0C425.5 1006.7 433.8 1009.5 440.0 1009.3C446.2 1009.1 450.3 1005.7 455.0 1004.0C459.7 1002.3 461.3 999.3 468.0 999.3C474.7 999.3 487.0 1002.9 495.0 1004.0C503.0 1005.1 511.2 1005.7 516.0 1006.0C520.8 1006.3 522.5 1006.0 523.8 1006.0L523.8 1035.4L264.5 1035.4Z" fill="url(#br2)" />
<path d="M264.5 1013.5C265.8 1013.5 267.8 1014.0 272.0 1013.5C276.2 1013.0 282.8 1011.8 290.0 1010.5C297.2 1009.2 306.7 1005.9 315.0 1006.0C323.3 1006.1 331.9 1009.5 340.0 1011.0C348.1 1012.5 356.6 1015.5 363.3 1015.3C370.0 1015.1 374.7 1011.7 380.0 1010.0C385.3 1008.3 388.7 1005.1 395.0 1005.3C401.3 1005.5 410.5 1009.3 418.0 1011.0C425.5 1012.7 433.8 1015.5 440.0 1015.3C446.2 1015.1 450.3 1011.7 455.0 1010.0C459.7 1008.3 461.3 1005.3 468.0 1005.3C474.7 1005.3 487.0 1008.9 495.0 1010.0C503.0 1011.1 511.2 1011.7 516.0 1012.0C520.8 1012.3 522.5 1012.0 523.8 1012.0" fill="none" stroke="#909090" stroke-width="2.0" stroke-opacity="0.7"/>
<path d="M264.5 1015.7C265.8 1015.7 267.8 1015.9 272.0 1015.7C276.2 1015.5 282.8 1015.1 290.0 1014.7C297.2 1014.2 306.7 1013.1 315.0 1013.1C323.3 1013.1 331.9 1014.3 340.0 1014.9C348.1 1015.4 356.6 1016.4 363.3 1016.4C370.0 1016.3 374.7 1015.1 380.0 1014.5C385.3 1013.9 388.7 1012.8 395.0 1012.9C401.3 1012.9 410.5 1014.3 418.0 1014.9C425.5 1015.4 433.8 1016.4 440.0 1016.4C446.2 1016.3 450.3 1015.1 455.0 1014.5C459.7 1013.9 461.3 1012.9 468.0 1012.9C474.7 1012.9 487.0 1014.1 495.0 1014.5C503.0 1014.9 511.2 1015.1 516.0 1015.2C520.8 1015.3 522.5 1015.2 523.8 1015.2" fill="none" stroke="#6c6c6c" stroke-width="3.0" stroke-opacity="0.6"/>
<path d="M264.5 1026.2C265.8 1026.2 267.8 1026.4 272.0 1026.2C276.2 1026.0 282.8 1025.6 290.0 1025.2C297.2 1024.7 306.7 1023.6 315.0 1023.6C323.3 1023.6 331.9 1024.8 340.0 1025.3C348.1 1025.9 356.6 1026.9 363.3 1026.9C370.0 1026.8 374.7 1025.6 380.0 1025.0C385.3 1024.4 388.7 1023.3 395.0 1023.4C401.3 1023.4 410.5 1024.8 418.0 1025.3C425.5 1025.9 433.8 1026.9 440.0 1026.9C446.2 1026.8 450.3 1025.6 455.0 1025.0C459.7 1024.4 461.3 1023.4 468.0 1023.4C474.7 1023.4 487.0 1024.6 495.0 1025.0C503.0 1025.4 511.2 1025.6 516.0 1025.7C520.8 1025.8 522.5 1025.7 523.8 1025.7" fill="none" stroke="#7a7a7a" stroke-width="3.0" stroke-opacity="0.7"/>
</g>
<g filter="url(#bl)">
<path d="M264.5 1008.7C265.8 1008.7 267.8 1009.2 272.0 1008.7C276.2 1008.2 282.8 1007.0 290.0 1005.7C297.2 1004.5 306.7 1001.1 315.0 1001.2C323.3 1001.3 331.9 1004.7 340.0 1006.2C348.1 1007.8 356.6 1010.7 363.3 1010.5C370.0 1010.3 374.7 1006.9 380.0 1005.2C385.3 1003.5 388.7 1000.3 395.0 1000.5C401.3 1000.7 410.5 1004.5 418.0 1006.2C425.5 1007.9 433.8 1010.7 440.0 1010.5C446.2 1010.3 450.3 1006.9 455.0 1005.2C459.7 1003.5 461.3 1000.5 468.0 1000.5C474.7 1000.5 487.0 1004.1 495.0 1005.2C503.0 1006.3 511.2 1006.9 516.0 1007.2C520.8 1007.5 522.5 1007.2 523.8 1007.2" fill="none" stroke="#f4f4f4" stroke-width="2.3" stroke-opacity="1"/>
<path d="M264.5 1021.0C265.8 1021.0 267.8 1021.2 272.0 1021.0C276.2 1020.8 282.8 1020.4 290.0 1020.0C297.2 1019.5 306.7 1018.4 315.0 1018.4C323.3 1018.4 331.9 1019.6 340.0 1020.1C348.1 1020.7 356.6 1021.7 363.3 1021.7C370.0 1021.6 374.7 1020.4 380.0 1019.8C385.3 1019.2 388.7 1018.1 395.0 1018.2C401.3 1018.2 410.5 1019.6 418.0 1020.1C425.5 1020.7 433.8 1021.7 440.0 1021.7C446.2 1021.6 450.3 1020.4 455.0 1019.8C459.7 1019.2 461.3 1018.2 468.0 1018.2C474.7 1018.2 487.0 1019.4 495.0 1019.8C503.0 1020.2 511.2 1020.4 516.0 1020.5C520.8 1020.6 522.5 1020.5 523.8 1020.5" fill="none" stroke="#e8e8e8" stroke-width="3.0" stroke-opacity="0.8"/>
</g></g>
<clipPath id="cp3"><rect x="524.3" y="866.9" width="242.30" height="162.50"/></clipPath>
<g clip-path="url(#cp3)"><g filter="url(#us)">
<rect x="518.3" y="860.9" width="254.30" height="174.50" fill="#303030"/>
<path d="M510 878.5H780" stroke="#6a6a6a" stroke-width="2"/>
<path d="M516.3 904.2C517.6 904.2 520.0 903.5 524.0 904.2C528.0 904.9 534.8 906.8 540.0 908.5C545.2 910.2 551.2 914.2 555.0 914.2C558.8 914.2 560.5 910.0 563.0 908.5C565.5 907.0 566.3 905.8 570.0 905.0C573.7 904.2 579.5 904.1 585.0 904.0C590.5 903.9 597.2 903.4 603.0 904.2C608.8 905.0 615.0 907.2 620.0 909.0C625.0 910.8 629.1 915.1 633.3 915.0C637.5 914.9 641.1 910.3 645.0 908.5C648.9 906.7 651.7 904.9 656.7 904.2C661.7 903.5 669.5 904.2 675.0 904.5C680.5 904.8 685.0 904.8 690.0 905.8C695.0 906.8 700.3 908.8 705.0 910.5C709.7 912.2 714.1 916.1 718.3 915.8C722.5 915.5 726.4 910.3 730.0 908.5C733.6 906.7 733.8 905.7 740.0 905.0C746.2 904.3 761.2 904.3 767.0 904.2C772.8 904.1 773.3 904.2 774.6 904.2" fill="none" stroke="#585858" stroke-width="1.5" stroke-opacity="0.8"/>
<path d="M516.3 901.2C517.6 901.2 520.0 900.6 524.0 901.2C528.0 901.8 534.8 903.4 540.0 904.9C545.2 906.3 551.2 909.7 555.0 909.7C558.8 909.7 560.5 906.2 563.0 904.9C565.5 903.5 566.3 902.5 570.0 901.9C573.7 901.2 579.5 901.1 585.0 901.0C590.5 900.9 597.2 900.5 603.0 901.2C608.8 901.9 615.0 903.7 620.0 905.3C625.0 906.8 629.1 910.4 633.3 910.4C637.5 910.3 641.1 906.4 645.0 904.9C648.9 903.3 651.7 901.8 656.7 901.2C661.7 900.6 669.5 901.2 675.0 901.5C680.5 901.7 685.0 901.7 690.0 902.6C695.0 903.4 700.3 905.1 705.0 906.5C709.7 908.0 714.1 911.3 718.3 911.1C722.5 910.8 726.4 906.4 730.0 904.9C733.6 903.3 733.8 902.5 740.0 901.9C746.2 901.3 761.2 901.3 767.0 901.2C772.8 901.1 773.3 901.2 774.6 901.2" fill="none" stroke="#262626" stroke-width="2.0" stroke-opacity="0.85"/>
<path d="M516.3 898.2C517.6 898.2 520.0 897.7 524.0 898.2C528.0 898.7 534.8 900.0 540.0 901.2C545.2 902.4 551.2 905.2 555.0 905.2C558.8 905.2 560.5 902.3 563.0 901.2C565.5 900.1 566.3 899.3 570.0 898.8C573.7 898.2 579.5 898.1 585.0 898.0C590.5 898.0 597.2 897.6 603.0 898.2C608.8 898.8 615.0 900.3 620.0 901.5C625.0 902.8 629.1 905.8 633.3 905.8C637.5 905.7 641.1 902.5 645.0 901.2C648.9 899.9 651.7 898.7 656.7 898.2C661.7 897.7 669.5 898.2 675.0 898.4C680.5 898.6 685.0 898.6 690.0 899.3C695.0 900.0 700.3 901.4 705.0 902.6C709.7 903.8 714.1 906.5 718.3 906.3C722.5 906.1 726.4 902.5 730.0 901.2C733.6 899.9 733.8 899.3 740.0 898.8C746.2 898.2 761.2 898.3 767.0 898.2C772.8 898.1 773.3 898.2 774.6 898.2" fill="none" stroke="#6a6a6a" stroke-width="1.8" stroke-opacity="0.75"/>
<path d="M516.3 894.7C517.6 894.7 520.0 894.3 524.0 894.7C528.0 895.1 534.8 896.1 540.0 897.0C545.2 898.0 551.2 900.2 555.0 900.2C558.8 900.2 560.5 897.9 563.0 897.0C565.5 896.2 566.3 895.5 570.0 895.1C573.7 894.7 579.5 894.6 585.0 894.6C590.5 894.5 597.2 894.2 603.0 894.7C608.8 895.1 615.0 896.3 620.0 897.3C625.0 898.3 629.1 900.7 633.3 900.6C637.5 900.6 641.1 898.0 645.0 897.0C648.9 896.1 651.7 895.1 656.7 894.7C661.7 894.3 669.5 894.7 675.0 894.9C680.5 895.0 685.0 895.0 690.0 895.6C695.0 896.1 700.3 897.2 705.0 898.1C709.7 899.1 714.1 901.2 718.3 901.1C722.5 900.9 726.4 898.0 730.0 897.0C733.6 896.1 733.8 895.5 740.0 895.1C746.2 894.7 761.2 894.8 767.0 894.7C772.8 894.6 773.3 894.7 774.6 894.7" fill="none" stroke="#2a2a2a" stroke-width="2.2" stroke-opacity="0.8"/>
<path d="M516.3 891.2C517.6 891.2 520.0 890.9 524.0 891.2C528.0 891.5 534.8 892.2 540.0 892.9C545.2 893.6 551.2 895.2 555.0 895.2C558.8 895.2 560.5 893.5 563.0 892.9C565.5 892.3 566.3 891.8 570.0 891.5C573.7 891.2 579.5 891.2 585.0 891.1C590.5 891.0 597.2 890.8 603.0 891.2C608.8 891.5 615.0 892.4 620.0 893.1C625.0 893.8 629.1 895.5 633.3 895.5C637.5 895.5 641.1 893.6 645.0 892.9C648.9 892.2 651.7 891.4 656.7 891.2C661.7 890.9 669.5 891.2 675.0 891.3C680.5 891.4 685.0 891.4 690.0 891.8C695.0 892.2 700.3 893.0 705.0 893.7C709.7 894.4 714.1 896.0 718.3 895.8C722.5 895.7 726.4 893.6 730.0 892.9C733.6 892.2 733.8 891.8 740.0 891.5C746.2 891.2 761.2 891.2 767.0 891.2C772.8 891.1 773.3 891.2 774.6 891.2" fill="none" stroke="#585858" stroke-width="1.6" stroke-opacity="0.7"/>
<path d="M516.3 887.2C517.6 887.2 520.0 887.0 524.0 887.2C528.0 887.4 534.8 887.8 540.0 888.2C545.2 888.7 551.2 889.7 555.0 889.7C558.8 889.7 560.5 888.6 563.0 888.2C565.5 887.9 566.3 887.6 570.0 887.4C573.7 887.2 579.5 887.2 585.0 887.1C590.5 887.1 597.2 887.0 603.0 887.2C608.8 887.4 615.0 887.9 620.0 888.4C625.0 888.8 629.1 889.9 633.3 889.9C637.5 889.9 641.1 888.7 645.0 888.2C648.9 887.8 651.7 887.3 656.7 887.2C661.7 887.0 669.5 887.2 675.0 887.2C680.5 887.3 685.0 887.3 690.0 887.6C695.0 887.8 700.3 888.3 705.0 888.8C709.7 889.2 714.1 890.2 718.3 890.1C722.5 890.0 726.4 888.7 730.0 888.2C733.6 887.8 733.8 887.6 740.0 887.4C746.2 887.2 761.2 887.2 767.0 887.2C772.8 887.1 773.3 887.2 774.6 887.2" fill="none" stroke="#2c2c2c" stroke-width="2.0" stroke-opacity="0.7"/>
<path d="M516.3 883.7C517.6 883.7 520.0 883.6 524.0 883.7C528.0 883.7 534.8 883.9 540.0 884.1C545.2 884.3 551.2 884.7 555.0 884.7C558.8 884.7 560.5 884.3 563.0 884.1C565.5 883.9 566.3 883.8 570.0 883.8C573.7 883.7 579.5 883.7 585.0 883.6C590.5 883.6 597.2 883.6 603.0 883.7C608.8 883.8 615.0 884.0 620.0 884.1C625.0 884.3 629.1 884.8 633.3 884.8C637.5 884.7 641.1 884.3 645.0 884.1C648.9 883.9 651.7 883.7 656.7 883.7C661.7 883.6 669.5 883.7 675.0 883.7C680.5 883.7 685.0 883.7 690.0 883.8C695.0 883.9 700.3 884.1 705.0 884.3C709.7 884.5 714.1 884.9 718.3 884.8C722.5 884.8 726.4 884.3 730.0 884.1C733.6 883.9 733.8 883.8 740.0 883.8C746.2 883.7 761.2 883.7 767.0 883.7C772.8 883.7 773.3 883.7 774.6 883.7" fill="none" stroke="#4c4c4c" stroke-width="1.6" stroke-opacity="0.6"/>
<path d="M516.3 907.7C517.6 907.7 520.0 907.0 524.0 907.7C528.0 908.4 534.8 910.3 540.0 912.0C545.2 913.7 551.2 917.7 555.0 917.7C558.8 917.7 560.5 913.5 563.0 912.0C565.5 910.5 566.3 909.2 570.0 908.5C573.7 907.8 579.5 907.6 585.0 907.5C590.5 907.4 597.2 906.9 603.0 907.7C608.8 908.5 615.0 910.7 620.0 912.5C625.0 914.3 629.1 918.6 633.3 918.5C637.5 918.4 641.1 913.8 645.0 912.0C648.9 910.2 651.7 908.4 656.7 907.7C661.7 907.0 669.5 907.7 675.0 908.0C680.5 908.3 685.0 908.3 690.0 909.3C695.0 910.3 700.3 912.3 705.0 914.0C709.7 915.7 714.1 919.6 718.3 919.3C722.5 919.0 726.4 913.8 730.0 912.0C733.6 910.2 733.8 909.2 740.0 908.5C746.2 907.8 761.2 907.8 767.0 907.7C772.8 907.6 773.3 907.7 774.6 907.7L774.6 1035.4L516.3 1035.4Z" fill="#161616" />
<path d="M516.3 907.7C517.6 907.7 520.0 907.0 524.0 907.7C528.0 908.4 534.8 910.3 540.0 912.0C545.2 913.7 551.2 917.7 555.0 917.7C558.8 917.7 560.5 913.5 563.0 912.0C565.5 910.5 566.3 909.2 570.0 908.5C573.7 907.8 579.5 907.6 585.0 907.5C590.5 907.4 597.2 906.9 603.0 907.7C608.8 908.5 615.0 910.7 620.0 912.5C625.0 914.3 629.1 918.6 633.3 918.5C637.5 918.4 641.1 913.8 645.0 912.0C648.9 910.2 651.7 908.4 656.7 907.7C661.7 907.0 669.5 907.7 675.0 908.0C680.5 908.3 685.0 908.3 690.0 909.3C695.0 910.3 700.3 912.3 705.0 914.0C709.7 915.7 714.1 919.6 718.3 919.3C722.5 919.0 726.4 913.8 730.0 912.0C733.6 910.2 733.8 909.2 740.0 908.5C746.2 907.8 761.2 907.8 767.0 907.7C772.8 907.6 773.3 907.7 774.6 907.7" fill="none" stroke="#6c6c6c" stroke-width="1.4" stroke-opacity="0.7"/>
<path d="M516.3 982.7C517.6 982.7 520.0 984.0 524.0 982.7C528.0 981.4 535.5 977.8 540.0 975.0C544.5 972.2 548.2 968.0 551.0 966.0C553.8 964.0 554.7 962.6 556.7 962.7C558.7 962.8 560.0 964.3 563.0 966.5C566.0 968.7 570.5 973.4 575.0 976.0C579.5 978.6 585.3 980.5 590.0 982.0C594.7 983.5 598.6 985.9 603.3 985.2C608.0 984.5 613.2 981.0 618.0 978.0C622.8 975.0 628.6 969.3 632.0 967.0C635.4 964.7 636.1 964.1 638.3 964.3C640.5 964.5 641.7 965.7 645.0 968.0C648.3 970.3 653.8 975.5 658.0 978.0C662.2 980.5 666.0 981.8 670.0 983.0C674.0 984.2 677.0 986.0 681.7 985.2C686.4 984.4 692.6 981.0 698.0 978.0C703.4 975.0 710.3 969.3 714.0 967.0C717.7 964.7 718.0 964.1 720.0 964.3C722.0 964.5 723.8 965.8 726.0 968.0C728.2 970.2 729.0 975.4 733.0 977.7C737.0 980.0 744.3 980.9 750.0 982.0C755.7 983.1 762.9 983.9 767.0 984.3C771.1 984.7 773.3 984.3 774.6 984.3L774.6 1035.4L516.3 1035.4Z" fill="#1f1f1f" />
<path d="M516.3 982.7C517.6 982.7 520.0 984.0 524.0 982.7C528.0 981.4 535.5 977.8 540.0 975.0C544.5 972.2 548.2 968.0 551.0 966.0C553.8 964.0 554.7 962.6 556.7 962.7C558.7 962.8 560.0 964.3 563.0 966.5C566.0 968.7 570.5 973.4 575.0 976.0C579.5 978.6 585.3 980.5 590.0 982.0C594.7 983.5 598.6 985.9 603.3 985.2C608.0 984.5 613.2 981.0 618.0 978.0C622.8 975.0 628.6 969.3 632.0 967.0C635.4 964.7 636.1 964.1 638.3 964.3C640.5 964.5 641.7 965.7 645.0 968.0C648.3 970.3 653.8 975.5 658.0 978.0C662.2 980.5 666.0 981.8 670.0 983.0C674.0 984.2 677.0 986.0 681.7 985.2C686.4 984.4 692.6 981.0 698.0 978.0C703.4 975.0 710.3 969.3 714.0 967.0C717.7 964.7 718.0 964.1 720.0 964.3C722.0 964.5 723.8 965.8 726.0 968.0C728.2 970.2 729.0 975.4 733.0 977.7C737.0 980.0 744.3 980.9 750.0 982.0C755.7 983.1 762.9 983.9 767.0 984.3C771.1 984.7 773.3 984.3 774.6 984.3" fill="none" stroke="#8c8c8c" stroke-width="1.3" stroke-opacity="0.75"/>
<path d="M516.3 987.7C517.6 987.7 520.0 989.0 524.0 987.7C528.0 986.4 535.5 982.8 540.0 980.0C544.5 977.2 548.2 973.0 551.0 971.0C553.8 969.0 554.7 967.6 556.7 967.7C558.7 967.8 560.0 969.3 563.0 971.5C566.0 973.7 570.5 978.4 575.0 981.0C579.5 983.6 585.3 985.5 590.0 987.0C594.7 988.5 598.6 990.9 603.3 990.2C608.0 989.5 613.2 986.0 618.0 983.0C622.8 980.0 628.6 974.3 632.0 972.0C635.4 969.7 636.1 969.1 638.3 969.3C640.5 969.5 641.7 970.7 645.0 973.0C648.3 975.3 653.8 980.5 658.0 983.0C662.2 985.5 666.0 986.8 670.0 988.0C674.0 989.2 677.0 991.0 681.7 990.2C686.4 989.4 692.6 986.0 698.0 983.0C703.4 980.0 710.3 974.3 714.0 972.0C717.7 969.7 718.0 969.1 720.0 969.3C722.0 969.5 723.8 970.8 726.0 973.0C728.2 975.2 729.0 980.4 733.0 982.7C737.0 985.0 744.3 985.9 750.0 987.0C755.7 988.1 762.9 988.9 767.0 989.3C771.1 989.7 773.3 989.3 774.6 989.3" fill="none" stroke="#303030" stroke-width="1.5" stroke-opacity="0.8"/>
<path d="M516.3 992.7C517.6 992.7 520.0 994.0 524.0 992.7C528.0 991.4 535.5 987.8 540.0 985.0C544.5 982.2 548.2 978.0 551.0 976.0C553.8 974.0 554.7 972.6 556.7 972.7C558.7 972.8 560.0 974.3 563.0 976.5C566.0 978.7 570.5 983.4 575.0 986.0C579.5 988.6 585.3 990.5 590.0 992.0C594.7 993.5 598.6 995.9 603.3 995.2C608.0 994.5 613.2 991.0 618.0 988.0C622.8 985.0 628.6 979.3 632.0 977.0C635.4 974.7 636.1 974.1 638.3 974.3C640.5 974.5 641.7 975.7 645.0 978.0C648.3 980.3 653.8 985.5 658.0 988.0C662.2 990.5 666.0 991.8 670.0 993.0C674.0 994.2 677.0 996.0 681.7 995.2C686.4 994.4 692.6 991.0 698.0 988.0C703.4 985.0 710.3 979.3 714.0 977.0C717.7 974.7 718.0 974.1 720.0 974.3C722.0 974.5 723.8 975.8 726.0 978.0C728.2 980.2 729.0 985.4 733.0 987.7C737.0 990.0 744.3 990.9 750.0 992.0C755.7 993.1 762.9 993.9 767.0 994.3C771.1 994.7 773.3 994.3 774.6 994.3" fill="none" stroke="#141414" stroke-width="1.8" stroke-opacity="0.8"/>
<path d="M516.3 997.7C517.6 997.7 520.0 998.3 524.0 997.7C528.0 997.1 533.5 995.4 540.0 994.0C546.5 992.6 556.3 989.2 563.3 989.3C570.3 989.4 575.9 992.8 582.0 994.5C588.1 996.2 593.7 999.2 600.0 999.3C606.3 999.4 612.8 996.5 620.0 995.0C627.2 993.5 636.6 990.2 643.3 990.2C650.0 990.2 654.2 993.5 660.0 995.0C665.8 996.5 671.6 999.3 678.3 999.3C685.0 999.3 692.5 996.5 700.0 995.0C707.5 993.5 715.8 990.4 723.3 990.2C730.8 990.0 737.7 992.8 745.0 994.0C752.3 995.2 762.1 997.1 767.0 997.7C771.9 998.3 773.3 997.7 774.6 997.7L774.6 1035.4L516.3 1035.4Z" fill="url(#br3)" />
<path d="M516.3 1012.2C517.6 1012.2 520.0 1012.8 524.0 1012.2C528.0 1011.6 533.5 1009.9 540.0 1008.5C546.5 1007.1 556.3 1003.7 563.3 1003.8C570.3 1003.9 575.9 1007.3 582.0 1009.0C588.1 1010.7 593.7 1013.7 600.0 1013.8C606.3 1013.9 612.8 1011.0 620.0 1009.5C627.2 1008.0 636.6 1004.7 643.3 1004.7C650.0 1004.7 654.2 1008.0 660.0 1009.5C665.8 1011.0 671.6 1013.8 678.3 1013.8C685.0 1013.8 692.5 1011.0 700.0 1009.5C707.5 1008.0 715.8 1004.9 723.3 1004.7C730.8 1004.5 737.7 1007.2 745.0 1008.5C752.3 1009.8 762.1 1011.6 767.0 1012.2C771.9 1012.8 773.3 1012.2 774.6 1012.2" fill="none" stroke="#8c8c8c" stroke-width="1.4" stroke-opacity="0.8"/>
<path d="M516.3 1016.2C517.6 1016.2 520.0 1016.8 524.0 1016.2C528.0 1015.6 533.5 1013.9 540.0 1012.5C546.5 1011.1 556.3 1007.7 563.3 1007.8C570.3 1007.9 575.9 1011.3 582.0 1013.0C588.1 1014.7 593.7 1017.7 600.0 1017.8C606.3 1017.9 612.8 1015.0 620.0 1013.5C627.2 1012.0 636.6 1008.7 643.3 1008.7C650.0 1008.7 654.2 1012.0 660.0 1013.5C665.8 1015.0 671.6 1017.8 678.3 1017.8C685.0 1017.8 692.5 1015.0 700.0 1013.5C707.5 1012.0 715.8 1008.9 723.3 1008.7C730.8 1008.5 737.7 1011.2 745.0 1012.5C752.3 1013.8 762.1 1015.6 767.0 1016.2C771.9 1016.8 773.3 1016.2 774.6 1016.2" fill="none" stroke="#dcdcdc" stroke-width="2.0" stroke-opacity="0.7"/>
<path d="M516.3 1020.2C517.6 1020.2 520.0 1020.8 524.0 1020.2C528.0 1019.6 533.5 1017.9 540.0 1016.5C546.5 1015.1 556.3 1011.7 563.3 1011.8C570.3 1011.9 575.9 1015.3 582.0 1017.0C588.1 1018.7 593.7 1021.7 600.0 1021.8C606.3 1021.9 612.8 1019.0 620.0 1017.5C627.2 1016.0 636.6 1012.7 643.3 1012.7C650.0 1012.7 654.2 1016.0 660.0 1017.5C665.8 1019.0 671.6 1021.8 678.3 1021.8C685.0 1021.8 692.5 1019.0 700.0 1017.5C707.5 1016.0 715.8 1012.9 723.3 1012.7C730.8 1012.5 737.7 1015.2 745.0 1016.5C752.3 1017.8 762.1 1019.6 767.0 1020.2C771.9 1020.8 773.3 1020.2 774.6 1020.2" fill="none" stroke="#7c7c7c" stroke-width="1.6" stroke-opacity="0.8"/>
<path d="M516.3 1024.7C517.6 1024.7 520.0 1025.3 524.0 1024.7C528.0 1024.1 533.5 1022.4 540.0 1021.0C546.5 1019.6 556.3 1016.2 563.3 1016.3C570.3 1016.4 575.9 1019.8 582.0 1021.5C588.1 1023.2 593.7 1026.2 600.0 1026.3C606.3 1026.4 612.8 1023.5 620.0 1022.0C627.2 1020.5 636.6 1017.2 643.3 1017.2C650.0 1017.2 654.2 1020.5 660.0 1022.0C665.8 1023.5 671.6 1026.3 678.3 1026.3C685.0 1026.3 692.5 1023.5 700.0 1022.0C707.5 1020.5 715.8 1017.4 723.3 1017.2C730.8 1017.0 737.7 1019.8 745.0 1021.0C752.3 1022.2 762.1 1024.1 767.0 1024.7C771.9 1025.3 773.3 1024.7 774.6 1024.7" fill="none" stroke="#a8a8a8" stroke-width="2.0" stroke-opacity="0.7"/>
<path d="M516.3 1029.2C517.6 1029.2 520.0 1029.8 524.0 1029.2C528.0 1028.6 533.5 1026.9 540.0 1025.5C546.5 1024.1 556.3 1020.7 563.3 1020.8C570.3 1020.9 575.9 1024.3 582.0 1026.0C588.1 1027.7 593.7 1030.7 600.0 1030.8C606.3 1030.9 612.8 1028.0 620.0 1026.5C627.2 1025.0 636.6 1021.7 643.3 1021.7C650.0 1021.7 654.2 1025.0 660.0 1026.5C665.8 1028.0 671.6 1030.8 678.3 1030.8C685.0 1030.8 692.5 1028.0 700.0 1026.5C707.5 1025.0 715.8 1021.9 723.3 1021.7C730.8 1021.5 737.7 1024.2 745.0 1025.5C752.3 1026.8 762.1 1028.6 767.0 1029.2C771.9 1029.8 773.3 1029.2 774.6 1029.2" fill="none" stroke="#606060" stroke-width="1.8" stroke-opacity="0.8"/>
<path d="M516.3 1033.7C517.6 1033.7 520.0 1034.3 524.0 1033.7C528.0 1033.1 533.5 1031.4 540.0 1030.0C546.5 1028.6 556.3 1025.2 563.3 1025.3C570.3 1025.4 575.9 1028.8 582.0 1030.5C588.1 1032.2 593.7 1035.2 600.0 1035.3C606.3 1035.4 612.8 1032.5 620.0 1031.0C627.2 1029.5 636.6 1026.2 643.3 1026.2C650.0 1026.2 654.2 1029.5 660.0 1031.0C665.8 1032.5 671.6 1035.3 678.3 1035.3C685.0 1035.3 692.5 1032.5 700.0 1031.0C707.5 1029.5 715.8 1026.4 723.3 1026.2C730.8 1026.0 737.7 1028.8 745.0 1030.0C752.3 1031.2 762.1 1033.1 767.0 1033.7C771.9 1034.3 773.3 1033.7 774.6 1033.7" fill="none" stroke="#8a8a8a" stroke-width="2.0" stroke-opacity="0.6"/>
<rect x="518.3" y="860.9" width="254.30" height="15.90" fill="#000"/>
</g>
<g filter="url(#bl2)">
<path d="M516.3 1002.1C517.6 1002.1 520.0 1002.7 524.0 1002.1C528.0 1001.5 533.5 999.8 540.0 998.4C546.5 997.0 556.3 993.6 563.3 993.7C570.3 993.8 575.9 997.2 582.0 998.9C588.1 1000.6 593.7 1003.6 600.0 1003.7C606.3 1003.8 612.8 1000.9 620.0 999.4C627.2 997.9 636.6 994.6 643.3 994.6C650.0 994.6 654.2 997.9 660.0 999.4C665.8 1000.9 671.6 1003.7 678.3 1003.7C685.0 1003.7 692.5 1000.9 700.0 999.4C707.5 997.9 715.8 994.8 723.3 994.6C730.8 994.4 737.7 997.1 745.0 998.4C752.3 999.6 762.1 1001.5 767.0 1002.1C771.9 1002.7 773.3 1002.1 774.6 1002.1" fill="none" stroke="#ffffff" stroke-width="9.0" stroke-opacity="1"/>
</g></g>
<text x="30.0" y="889.6" font-size="24.3" font-family="Liberation Sans, sans-serif" font-weight="bold" fill="#fff">WT</text>
<text x="278.9" y="892.4" font-size="24.3" font-family="Liberation Sans, sans-serif" font-weight="bold" fill="#fff">Isl1</text>
<text x="321.3" y="881.9" font-size="16.2" textLength="48.9" lengthAdjust="spacingAndGlyphs" font-family="Liberation Sans, sans-serif" font-weight="bold" fill="#fff">+/CRE</text>
<text x="528.3" y="891.8" font-size="24.3" font-family="Liberation Sans, sans-serif" font-weight="bold" fill="#fff">Isl1</text>
<text x="571.0" y="881.3" font-size="16.2" textLength="48.6" lengthAdjust="spacingAndGlyphs" font-family="Liberation Sans, sans-serif" font-weight="bold" fill="#fff">+/CRE</text>
<text x="619.0" y="891.8" font-size="24.3" textLength="86.8" lengthAdjust="spacingAndGlyphs" font-family="Liberation Sans, sans-serif" font-weight="bold" fill="#fff">::Meis2</text>
<text x="705.7" y="881.3" font-size="16.2" textLength="18.8" lengthAdjust="spacingAndGlyphs" font-family="Liberation Sans, sans-serif" font-weight="bold" fill="#fff">-/-</text>
</g></svg>
</body></html>
